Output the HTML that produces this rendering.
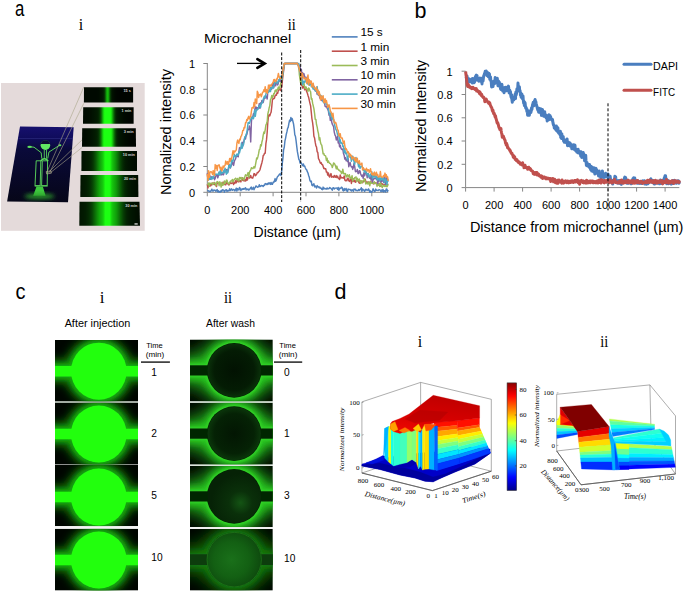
<!DOCTYPE html>
<html><head><meta charset="utf-8"><style>
html,body{margin:0;padding:0;background:#fff;width:685px;height:594px;overflow:hidden}
svg{display:block}

</style></head><body>
<svg width="685" height="594" viewBox="0 0 685 594">
<defs>
<linearGradient id="navy" x1="0" y1="0" x2="0" y2="1">
<stop offset="0" stop-color="#16106e"/><stop offset="0.15" stop-color="#100c5c"/><stop offset="0.3" stop-color="#0a0a3a"/><stop offset="1" stop-color="#060618"/></linearGradient>
<filter id="blur1" x="-20%" y="-20%" width="140%" height="140%"><feGaussianBlur stdDeviation="0.6"/></filter>
<filter id="blur2" x="-50%" y="-50%" width="200%" height="200%"><feGaussianBlur stdDeviation="2.2"/></filter>
<linearGradient id="strip0" x1="84.0" y1="0" x2="133.1" y2="0" gradientUnits="userSpaceOnUse"><stop offset="0.000" stop-color="rgb(0,9,0)"/><stop offset="0.017" stop-color="rgb(0,9,0)"/><stop offset="0.033" stop-color="rgb(0,9,0)"/><stop offset="0.050" stop-color="rgb(0,9,0)"/><stop offset="0.067" stop-color="rgb(0,9,0)"/><stop offset="0.083" stop-color="rgb(0,9,0)"/><stop offset="0.100" stop-color="rgb(0,9,0)"/><stop offset="0.117" stop-color="rgb(0,9,0)"/><stop offset="0.133" stop-color="rgb(0,9,0)"/><stop offset="0.150" stop-color="rgb(0,9,0)"/><stop offset="0.167" stop-color="rgb(0,9,0)"/><stop offset="0.183" stop-color="rgb(0,9,0)"/><stop offset="0.200" stop-color="rgb(0,9,0)"/><stop offset="0.217" stop-color="rgb(0,9,0)"/><stop offset="0.233" stop-color="rgb(0,9,0)"/><stop offset="0.250" stop-color="rgb(0,9,0)"/><stop offset="0.267" stop-color="rgb(0,10,0)"/><stop offset="0.283" stop-color="rgb(0,10,0)"/><stop offset="0.300" stop-color="rgb(0,11,0)"/><stop offset="0.317" stop-color="rgb(1,13,0)"/><stop offset="0.333" stop-color="rgb(1,15,0)"/><stop offset="0.350" stop-color="rgb(1,17,0)"/><stop offset="0.367" stop-color="rgb(1,20,1)"/><stop offset="0.383" stop-color="rgb(2,24,1)"/><stop offset="0.400" stop-color="rgb(3,33,2)"/><stop offset="0.417" stop-color="rgb(5,52,3)"/><stop offset="0.433" stop-color="rgb(9,88,5)"/><stop offset="0.450" stop-color="rgb(14,136,9)"/><stop offset="0.467" stop-color="rgb(19,178,12)"/><stop offset="0.483" stop-color="rgb(20,187,12)"/><stop offset="0.500" stop-color="rgb(17,162,11)"/><stop offset="0.517" stop-color="rgb(12,114,7)"/><stop offset="0.533" stop-color="rgb(7,69,4)"/><stop offset="0.550" stop-color="rgb(3,40,2)"/><stop offset="0.567" stop-color="rgb(2,24,1)"/><stop offset="0.583" stop-color="rgb(1,17,0)"/><stop offset="0.600" stop-color="rgb(1,14,0)"/><stop offset="0.617" stop-color="rgb(0,11,0)"/><stop offset="0.633" stop-color="rgb(0,9,0)"/><stop offset="0.650" stop-color="rgb(0,7,0)"/><stop offset="0.667" stop-color="rgb(0,6,0)"/><stop offset="0.683" stop-color="rgb(0,5,0)"/><stop offset="0.700" stop-color="rgb(0,5,0)"/><stop offset="0.717" stop-color="rgb(0,4,0)"/><stop offset="0.733" stop-color="rgb(0,4,0)"/><stop offset="0.750" stop-color="rgb(0,4,0)"/><stop offset="0.767" stop-color="rgb(0,4,0)"/><stop offset="0.783" stop-color="rgb(0,4,0)"/><stop offset="0.800" stop-color="rgb(0,4,0)"/><stop offset="0.817" stop-color="rgb(0,4,0)"/><stop offset="0.833" stop-color="rgb(0,4,0)"/><stop offset="0.850" stop-color="rgb(0,4,0)"/><stop offset="0.867" stop-color="rgb(0,4,0)"/><stop offset="0.883" stop-color="rgb(0,4,0)"/><stop offset="0.900" stop-color="rgb(0,4,0)"/><stop offset="0.917" stop-color="rgb(0,4,0)"/><stop offset="0.933" stop-color="rgb(0,4,0)"/><stop offset="0.950" stop-color="rgb(0,4,0)"/><stop offset="0.967" stop-color="rgb(0,4,0)"/><stop offset="0.983" stop-color="rgb(0,4,0)"/><stop offset="1.000" stop-color="rgb(0,4,0)"/></linearGradient>
<linearGradient id="strip1" x1="83.2" y1="0" x2="133.6" y2="0" gradientUnits="userSpaceOnUse"><stop offset="0.000" stop-color="rgb(0,10,0)"/><stop offset="0.017" stop-color="rgb(0,10,0)"/><stop offset="0.033" stop-color="rgb(0,10,0)"/><stop offset="0.050" stop-color="rgb(0,11,0)"/><stop offset="0.067" stop-color="rgb(0,11,0)"/><stop offset="0.083" stop-color="rgb(0,12,0)"/><stop offset="0.100" stop-color="rgb(0,12,0)"/><stop offset="0.117" stop-color="rgb(1,13,0)"/><stop offset="0.133" stop-color="rgb(1,14,0)"/><stop offset="0.150" stop-color="rgb(1,15,0)"/><stop offset="0.167" stop-color="rgb(1,16,0)"/><stop offset="0.183" stop-color="rgb(1,18,1)"/><stop offset="0.200" stop-color="rgb(1,19,1)"/><stop offset="0.217" stop-color="rgb(1,21,1)"/><stop offset="0.233" stop-color="rgb(2,22,1)"/><stop offset="0.250" stop-color="rgb(2,24,1)"/><stop offset="0.267" stop-color="rgb(2,26,1)"/><stop offset="0.283" stop-color="rgb(2,29,1)"/><stop offset="0.300" stop-color="rgb(3,34,2)"/><stop offset="0.317" stop-color="rgb(4,43,2)"/><stop offset="0.333" stop-color="rgb(6,60,3)"/><stop offset="0.350" stop-color="rgb(9,87,5)"/><stop offset="0.367" stop-color="rgb(13,123,8)"/><stop offset="0.383" stop-color="rgb(17,166,11)"/><stop offset="0.400" stop-color="rgb(22,208,14)"/><stop offset="0.417" stop-color="rgb(26,244,16)"/><stop offset="0.433" stop-color="rgb(28,255,18)"/><stop offset="0.450" stop-color="rgb(28,255,18)"/><stop offset="0.467" stop-color="rgb(28,255,18)"/><stop offset="0.483" stop-color="rgb(28,255,18)"/><stop offset="0.500" stop-color="rgb(28,255,18)"/><stop offset="0.517" stop-color="rgb(28,255,18)"/><stop offset="0.533" stop-color="rgb(28,255,18)"/><stop offset="0.550" stop-color="rgb(26,242,16)"/><stop offset="0.567" stop-color="rgb(22,207,14)"/><stop offset="0.583" stop-color="rgb(17,165,11)"/><stop offset="0.600" stop-color="rgb(12,122,8)"/><stop offset="0.617" stop-color="rgb(8,85,5)"/><stop offset="0.633" stop-color="rgb(5,57,3)"/><stop offset="0.650" stop-color="rgb(3,39,2)"/><stop offset="0.667" stop-color="rgb(2,30,1)"/><stop offset="0.683" stop-color="rgb(2,25,1)"/><stop offset="0.700" stop-color="rgb(1,22,1)"/><stop offset="0.717" stop-color="rgb(1,19,1)"/><stop offset="0.733" stop-color="rgb(1,18,0)"/><stop offset="0.750" stop-color="rgb(1,16,0)"/><stop offset="0.767" stop-color="rgb(1,14,0)"/><stop offset="0.783" stop-color="rgb(1,13,0)"/><stop offset="0.800" stop-color="rgb(0,11,0)"/><stop offset="0.817" stop-color="rgb(0,10,0)"/><stop offset="0.833" stop-color="rgb(0,9,0)"/><stop offset="0.850" stop-color="rgb(0,8,0)"/><stop offset="0.867" stop-color="rgb(0,7,0)"/><stop offset="0.883" stop-color="rgb(0,7,0)"/><stop offset="0.900" stop-color="rgb(0,6,0)"/><stop offset="0.917" stop-color="rgb(0,6,0)"/><stop offset="0.933" stop-color="rgb(0,5,0)"/><stop offset="0.950" stop-color="rgb(0,5,0)"/><stop offset="0.967" stop-color="rgb(0,5,0)"/><stop offset="0.983" stop-color="rgb(0,4,0)"/><stop offset="1.000" stop-color="rgb(0,4,0)"/></linearGradient>
<linearGradient id="strip2" x1="82.2" y1="0" x2="135.8" y2="0" gradientUnits="userSpaceOnUse"><stop offset="0.000" stop-color="rgb(0,10,0)"/><stop offset="0.017" stop-color="rgb(0,11,0)"/><stop offset="0.033" stop-color="rgb(0,11,0)"/><stop offset="0.050" stop-color="rgb(0,12,0)"/><stop offset="0.067" stop-color="rgb(0,12,0)"/><stop offset="0.083" stop-color="rgb(1,13,0)"/><stop offset="0.100" stop-color="rgb(1,14,0)"/><stop offset="0.117" stop-color="rgb(1,15,0)"/><stop offset="0.133" stop-color="rgb(1,16,0)"/><stop offset="0.150" stop-color="rgb(1,17,0)"/><stop offset="0.167" stop-color="rgb(1,19,1)"/><stop offset="0.183" stop-color="rgb(1,20,1)"/><stop offset="0.200" stop-color="rgb(2,22,1)"/><stop offset="0.217" stop-color="rgb(2,24,1)"/><stop offset="0.233" stop-color="rgb(2,26,1)"/><stop offset="0.250" stop-color="rgb(2,29,1)"/><stop offset="0.267" stop-color="rgb(3,32,1)"/><stop offset="0.283" stop-color="rgb(3,37,2)"/><stop offset="0.300" stop-color="rgb(4,46,3)"/><stop offset="0.317" stop-color="rgb(6,62,4)"/><stop offset="0.333" stop-color="rgb(9,88,5)"/><stop offset="0.350" stop-color="rgb(13,122,8)"/><stop offset="0.367" stop-color="rgb(17,163,11)"/><stop offset="0.383" stop-color="rgb(22,205,14)"/><stop offset="0.400" stop-color="rgb(26,241,16)"/><stop offset="0.417" stop-color="rgb(28,255,18)"/><stop offset="0.433" stop-color="rgb(28,255,18)"/><stop offset="0.450" stop-color="rgb(28,255,18)"/><stop offset="0.467" stop-color="rgb(28,255,18)"/><stop offset="0.483" stop-color="rgb(28,255,18)"/><stop offset="0.500" stop-color="rgb(28,255,18)"/><stop offset="0.517" stop-color="rgb(28,255,18)"/><stop offset="0.533" stop-color="rgb(28,255,18)"/><stop offset="0.550" stop-color="rgb(25,232,16)"/><stop offset="0.567" stop-color="rgb(20,194,13)"/><stop offset="0.583" stop-color="rgb(16,152,10)"/><stop offset="0.600" stop-color="rgb(11,112,7)"/><stop offset="0.617" stop-color="rgb(8,78,5)"/><stop offset="0.633" stop-color="rgb(5,54,3)"/><stop offset="0.650" stop-color="rgb(3,39,2)"/><stop offset="0.667" stop-color="rgb(3,31,1)"/><stop offset="0.683" stop-color="rgb(2,26,1)"/><stop offset="0.700" stop-color="rgb(2,23,1)"/><stop offset="0.717" stop-color="rgb(1,21,1)"/><stop offset="0.733" stop-color="rgb(1,19,1)"/><stop offset="0.750" stop-color="rgb(1,17,0)"/><stop offset="0.767" stop-color="rgb(1,15,0)"/><stop offset="0.783" stop-color="rgb(1,14,0)"/><stop offset="0.800" stop-color="rgb(0,12,0)"/><stop offset="0.817" stop-color="rgb(0,11,0)"/><stop offset="0.833" stop-color="rgb(0,10,0)"/><stop offset="0.850" stop-color="rgb(0,9,0)"/><stop offset="0.867" stop-color="rgb(0,8,0)"/><stop offset="0.883" stop-color="rgb(0,7,0)"/><stop offset="0.900" stop-color="rgb(0,6,0)"/><stop offset="0.917" stop-color="rgb(0,6,0)"/><stop offset="0.933" stop-color="rgb(0,5,0)"/><stop offset="0.950" stop-color="rgb(0,5,0)"/><stop offset="0.967" stop-color="rgb(0,5,0)"/><stop offset="0.983" stop-color="rgb(0,4,0)"/><stop offset="1.000" stop-color="rgb(0,4,0)"/></linearGradient>
<linearGradient id="strip3" x1="81.5" y1="0" x2="137.0" y2="0" gradientUnits="userSpaceOnUse"><stop offset="0.000" stop-color="rgb(1,18,1)"/><stop offset="0.017" stop-color="rgb(1,19,1)"/><stop offset="0.033" stop-color="rgb(1,20,1)"/><stop offset="0.050" stop-color="rgb(1,21,1)"/><stop offset="0.067" stop-color="rgb(2,22,1)"/><stop offset="0.083" stop-color="rgb(2,24,1)"/><stop offset="0.100" stop-color="rgb(2,25,1)"/><stop offset="0.117" stop-color="rgb(2,27,1)"/><stop offset="0.133" stop-color="rgb(2,29,1)"/><stop offset="0.150" stop-color="rgb(3,32,2)"/><stop offset="0.167" stop-color="rgb(3,37,2)"/><stop offset="0.183" stop-color="rgb(4,42,2)"/><stop offset="0.200" stop-color="rgb(5,50,3)"/><stop offset="0.217" stop-color="rgb(6,59,3)"/><stop offset="0.233" stop-color="rgb(7,71,4)"/><stop offset="0.250" stop-color="rgb(8,84,5)"/><stop offset="0.267" stop-color="rgb(10,99,6)"/><stop offset="0.283" stop-color="rgb(12,115,7)"/><stop offset="0.300" stop-color="rgb(14,131,9)"/><stop offset="0.317" stop-color="rgb(15,147,10)"/><stop offset="0.333" stop-color="rgb(17,161,11)"/><stop offset="0.350" stop-color="rgb(18,174,12)"/><stop offset="0.367" stop-color="rgb(20,187,12)"/><stop offset="0.383" stop-color="rgb(21,201,13)"/><stop offset="0.400" stop-color="rgb(23,219,15)"/><stop offset="0.417" stop-color="rgb(26,244,17)"/><stop offset="0.433" stop-color="rgb(28,255,18)"/><stop offset="0.450" stop-color="rgb(28,255,18)"/><stop offset="0.467" stop-color="rgb(28,255,18)"/><stop offset="0.483" stop-color="rgb(28,255,18)"/><stop offset="0.500" stop-color="rgb(28,255,18)"/><stop offset="0.517" stop-color="rgb(27,252,17)"/><stop offset="0.533" stop-color="rgb(24,224,15)"/><stop offset="0.550" stop-color="rgb(21,203,14)"/><stop offset="0.567" stop-color="rgb(20,187,12)"/><stop offset="0.583" stop-color="rgb(18,175,12)"/><stop offset="0.600" stop-color="rgb(17,162,11)"/><stop offset="0.617" stop-color="rgb(15,148,10)"/><stop offset="0.633" stop-color="rgb(14,133,9)"/><stop offset="0.650" stop-color="rgb(12,117,8)"/><stop offset="0.667" stop-color="rgb(10,101,6)"/><stop offset="0.683" stop-color="rgb(8,85,5)"/><stop offset="0.700" stop-color="rgb(7,71,4)"/><stop offset="0.717" stop-color="rgb(6,59,3)"/><stop offset="0.733" stop-color="rgb(4,49,3)"/><stop offset="0.750" stop-color="rgb(4,40,2)"/><stop offset="0.767" stop-color="rgb(3,34,2)"/><stop offset="0.783" stop-color="rgb(2,29,1)"/><stop offset="0.800" stop-color="rgb(2,25,1)"/><stop offset="0.817" stop-color="rgb(2,23,1)"/><stop offset="0.833" stop-color="rgb(1,21,1)"/><stop offset="0.850" stop-color="rgb(1,19,1)"/><stop offset="0.867" stop-color="rgb(1,18,1)"/><stop offset="0.883" stop-color="rgb(1,16,0)"/><stop offset="0.900" stop-color="rgb(1,15,0)"/><stop offset="0.917" stop-color="rgb(1,14,0)"/><stop offset="0.933" stop-color="rgb(1,13,0)"/><stop offset="0.950" stop-color="rgb(0,12,0)"/><stop offset="0.967" stop-color="rgb(0,11,0)"/><stop offset="0.983" stop-color="rgb(0,11,0)"/><stop offset="1.000" stop-color="rgb(0,10,0)"/></linearGradient>
<linearGradient id="strip4" x1="80.5" y1="0" x2="138.2" y2="0" gradientUnits="userSpaceOnUse"><stop offset="0.000" stop-color="rgb(1,21,1)"/><stop offset="0.017" stop-color="rgb(2,22,1)"/><stop offset="0.033" stop-color="rgb(2,24,1)"/><stop offset="0.050" stop-color="rgb(2,25,1)"/><stop offset="0.067" stop-color="rgb(2,26,1)"/><stop offset="0.083" stop-color="rgb(2,28,1)"/><stop offset="0.100" stop-color="rgb(2,30,1)"/><stop offset="0.117" stop-color="rgb(3,33,2)"/><stop offset="0.133" stop-color="rgb(3,36,2)"/><stop offset="0.150" stop-color="rgb(4,41,2)"/><stop offset="0.167" stop-color="rgb(4,47,3)"/><stop offset="0.183" stop-color="rgb(5,55,3)"/><stop offset="0.200" stop-color="rgb(6,64,4)"/><stop offset="0.217" stop-color="rgb(7,75,5)"/><stop offset="0.233" stop-color="rgb(9,87,5)"/><stop offset="0.250" stop-color="rgb(10,101,6)"/><stop offset="0.267" stop-color="rgb(12,115,7)"/><stop offset="0.283" stop-color="rgb(13,129,8)"/><stop offset="0.300" stop-color="rgb(15,143,9)"/><stop offset="0.317" stop-color="rgb(16,156,10)"/><stop offset="0.333" stop-color="rgb(18,168,11)"/><stop offset="0.350" stop-color="rgb(19,179,12)"/><stop offset="0.367" stop-color="rgb(20,188,13)"/><stop offset="0.383" stop-color="rgb(21,199,13)"/><stop offset="0.400" stop-color="rgb(23,215,14)"/><stop offset="0.417" stop-color="rgb(25,238,16)"/><stop offset="0.433" stop-color="rgb(28,255,18)"/><stop offset="0.450" stop-color="rgb(28,255,18)"/><stop offset="0.467" stop-color="rgb(28,255,18)"/><stop offset="0.483" stop-color="rgb(28,255,18)"/><stop offset="0.500" stop-color="rgb(28,255,18)"/><stop offset="0.517" stop-color="rgb(26,243,16)"/><stop offset="0.533" stop-color="rgb(23,217,15)"/><stop offset="0.550" stop-color="rgb(21,199,13)"/><stop offset="0.567" stop-color="rgb(20,187,12)"/><stop offset="0.583" stop-color="rgb(19,177,12)"/><stop offset="0.600" stop-color="rgb(17,167,11)"/><stop offset="0.617" stop-color="rgb(16,156,10)"/><stop offset="0.633" stop-color="rgb(15,143,9)"/><stop offset="0.650" stop-color="rgb(13,129,8)"/><stop offset="0.667" stop-color="rgb(12,115,7)"/><stop offset="0.683" stop-color="rgb(10,101,6)"/><stop offset="0.700" stop-color="rgb(9,87,5)"/><stop offset="0.717" stop-color="rgb(7,74,4)"/><stop offset="0.733" stop-color="rgb(6,62,4)"/><stop offset="0.750" stop-color="rgb(5,53,3)"/><stop offset="0.767" stop-color="rgb(4,44,2)"/><stop offset="0.783" stop-color="rgb(3,38,2)"/><stop offset="0.800" stop-color="rgb(3,33,2)"/><stop offset="0.817" stop-color="rgb(2,29,1)"/><stop offset="0.833" stop-color="rgb(2,26,1)"/><stop offset="0.850" stop-color="rgb(2,24,1)"/><stop offset="0.867" stop-color="rgb(2,22,1)"/><stop offset="0.883" stop-color="rgb(1,20,1)"/><stop offset="0.900" stop-color="rgb(1,19,1)"/><stop offset="0.917" stop-color="rgb(1,18,0)"/><stop offset="0.933" stop-color="rgb(1,17,0)"/><stop offset="0.950" stop-color="rgb(1,15,0)"/><stop offset="0.967" stop-color="rgb(1,14,0)"/><stop offset="0.983" stop-color="rgb(1,14,0)"/><stop offset="1.000" stop-color="rgb(1,13,0)"/></linearGradient>
<linearGradient id="strip5" x1="79.5" y1="0" x2="139.5" y2="0" gradientUnits="userSpaceOnUse"><stop offset="0.000" stop-color="rgb(1,21,1)"/><stop offset="0.017" stop-color="rgb(2,22,1)"/><stop offset="0.033" stop-color="rgb(2,24,1)"/><stop offset="0.050" stop-color="rgb(2,25,1)"/><stop offset="0.067" stop-color="rgb(2,26,1)"/><stop offset="0.083" stop-color="rgb(2,28,1)"/><stop offset="0.100" stop-color="rgb(2,30,1)"/><stop offset="0.117" stop-color="rgb(3,33,2)"/><stop offset="0.133" stop-color="rgb(3,37,2)"/><stop offset="0.150" stop-color="rgb(4,41,2)"/><stop offset="0.167" stop-color="rgb(4,47,3)"/><stop offset="0.183" stop-color="rgb(5,55,3)"/><stop offset="0.200" stop-color="rgb(6,64,4)"/><stop offset="0.217" stop-color="rgb(7,75,5)"/><stop offset="0.233" stop-color="rgb(9,88,5)"/><stop offset="0.250" stop-color="rgb(10,102,6)"/><stop offset="0.267" stop-color="rgb(12,116,7)"/><stop offset="0.283" stop-color="rgb(13,130,8)"/><stop offset="0.300" stop-color="rgb(15,144,9)"/><stop offset="0.317" stop-color="rgb(16,157,10)"/><stop offset="0.333" stop-color="rgb(18,169,11)"/><stop offset="0.350" stop-color="rgb(19,179,12)"/><stop offset="0.367" stop-color="rgb(20,188,13)"/><stop offset="0.383" stop-color="rgb(21,199,13)"/><stop offset="0.400" stop-color="rgb(23,214,14)"/><stop offset="0.417" stop-color="rgb(25,237,16)"/><stop offset="0.433" stop-color="rgb(28,255,18)"/><stop offset="0.450" stop-color="rgb(28,255,18)"/><stop offset="0.467" stop-color="rgb(28,255,18)"/><stop offset="0.483" stop-color="rgb(28,255,18)"/><stop offset="0.500" stop-color="rgb(28,255,18)"/><stop offset="0.517" stop-color="rgb(25,237,16)"/><stop offset="0.533" stop-color="rgb(22,213,14)"/><stop offset="0.550" stop-color="rgb(21,196,13)"/><stop offset="0.567" stop-color="rgb(19,185,12)"/><stop offset="0.583" stop-color="rgb(18,176,12)"/><stop offset="0.600" stop-color="rgb(17,166,11)"/><stop offset="0.617" stop-color="rgb(16,155,10)"/><stop offset="0.633" stop-color="rgb(15,142,9)"/><stop offset="0.650" stop-color="rgb(13,128,8)"/><stop offset="0.667" stop-color="rgb(12,114,7)"/><stop offset="0.683" stop-color="rgb(10,99,6)"/><stop offset="0.700" stop-color="rgb(9,86,5)"/><stop offset="0.717" stop-color="rgb(7,73,4)"/><stop offset="0.733" stop-color="rgb(6,61,4)"/><stop offset="0.750" stop-color="rgb(5,52,3)"/><stop offset="0.767" stop-color="rgb(4,44,2)"/><stop offset="0.783" stop-color="rgb(3,37,2)"/><stop offset="0.800" stop-color="rgb(3,32,2)"/><stop offset="0.817" stop-color="rgb(2,29,1)"/><stop offset="0.833" stop-color="rgb(2,26,1)"/><stop offset="0.850" stop-color="rgb(2,23,1)"/><stop offset="0.867" stop-color="rgb(1,22,1)"/><stop offset="0.883" stop-color="rgb(1,20,1)"/><stop offset="0.900" stop-color="rgb(1,19,1)"/><stop offset="0.917" stop-color="rgb(1,18,0)"/><stop offset="0.933" stop-color="rgb(1,16,0)"/><stop offset="0.950" stop-color="rgb(1,15,0)"/><stop offset="0.967" stop-color="rgb(1,14,0)"/><stop offset="0.983" stop-color="rgb(1,13,0)"/><stop offset="1.000" stop-color="rgb(0,13,0)"/></linearGradient>
<filter id="glowA" x="-30%" y="-30%" width="160%" height="160%"><feGaussianBlur stdDeviation="4.5"/></filter>
<filter id="glowB" x="-30%" y="-30%" width="160%" height="160%"><feGaussianBlur stdDeviation="7"/></filter>
<filter id="soft" x="-10%" y="-10%" width="120%" height="120%"><feGaussianBlur stdDeviation="0.7"/></filter>
<filter id="soft2" x="-10%" y="-10%" width="120%" height="120%"><feGaussianBlur stdDeviation="1.6"/></filter>
<filter id="gI1" x="-30%" y="-30%" width="160%" height="160%"><feGaussianBlur stdDeviation="5"/></filter>
<filter id="gI2" x="-30%" y="-30%" width="160%" height="160%"><feGaussianBlur stdDeviation="2.2"/></filter>
<filter id="gJ1" x="-40%" y="-40%" width="180%" height="180%"><feGaussianBlur stdDeviation="9"/></filter>
<filter id="gJ2" x="-30%" y="-30%" width="160%" height="160%"><feGaussianBlur stdDeviation="3.5"/></filter>
<filter id="gJ3" x="-30%" y="-30%" width="160%" height="160%"><feGaussianBlur stdDeviation="1.2"/></filter>
<radialGradient id="inJ0" cx="0.5" cy="0.5" r="0.5"><stop offset="0" stop-color="#021202"/><stop offset="0.75" stop-color="#041c04"/><stop offset="1" stop-color="#0a300a"/></radialGradient>
<radialGradient id="inJ1" cx="0.5" cy="0.5" r="0.5"><stop offset="0" stop-color="#031603"/><stop offset="0.75" stop-color="#052205"/><stop offset="1" stop-color="#0b360b"/></radialGradient>
<radialGradient id="inJ2" cx="0.62" cy="0.62" r="0.55"><stop offset="0" stop-color="#145414"/><stop offset="0.4" stop-color="#0a300a"/><stop offset="1" stop-color="#062206"/></radialGradient>
<radialGradient id="inJ3" cx="0.45" cy="0.5" r="0.55"><stop offset="0" stop-color="#1a701a"/><stop offset="0.6" stop-color="#136013"/><stop offset="1" stop-color="#0e4a0e"/></radialGradient>
<clipPath id="cli0"><rect x="55.0" y="339.9" width="83.0" height="61.700000000000045"/></clipPath>
<clipPath id="cli1"><rect x="55.0" y="402.6" width="83.0" height="62.0"/></clipPath>
<clipPath id="cli2"><rect x="55.0" y="464.6" width="83.0" height="61.69999999999993"/></clipPath>
<clipPath id="cli3"><rect x="55.0" y="528.6" width="83.0" height="62.0"/></clipPath>
<clipPath id="clj0"><rect x="190.0" y="339.5" width="82.80000000000001" height="62.10000000000002"/></clipPath>
<clipPath id="clj1"><rect x="190.0" y="402.6" width="82.80000000000001" height="62.099999999999966"/></clipPath>
<clipPath id="clj2"><rect x="190.0" y="466.0" width="82.80000000000001" height="61.200000000000045"/></clipPath>
<clipPath id="clj3"><rect x="190.0" y="528.9" width="82.80000000000001" height="61.700000000000045"/></clipPath>
<clipPath id="rfclip"><polygon points="434,421 479.6,417.5 479.6,427 491.2,453.8 437.6,471 434,471"/></clipPath>
<linearGradient id="redtop" x1="0.3" y1="0" x2="0" y2="1"><stop offset="0" stop-color="#c20000"/><stop offset="0.45" stop-color="#d40000"/><stop offset="1" stop-color="#f20800"/></linearGradient>
<linearGradient id="jetbar" x1="0" y1="0" x2="0" y2="1"><stop offset="0.00" stop-color="rgb(127,0,0)"/><stop offset="0.05" stop-color="rgb(176,0,0)"/><stop offset="0.10" stop-color="rgb(226,0,0)"/><stop offset="0.15" stop-color="rgb(255,20,0)"/><stop offset="0.20" stop-color="rgb(255,70,0)"/><stop offset="0.25" stop-color="rgb(255,119,0)"/><stop offset="0.30" stop-color="rgb(255,169,0)"/><stop offset="0.35" stop-color="rgb(255,218,0)"/><stop offset="0.40" stop-color="rgb(241,255,13)"/><stop offset="0.45" stop-color="rgb(192,255,62)"/><stop offset="0.50" stop-color="rgb(142,255,112)"/><stop offset="0.55" stop-color="rgb(93,255,161)"/><stop offset="0.60" stop-color="rgb(43,255,211)"/><stop offset="0.65" stop-color="rgb(0,249,255)"/><stop offset="0.70" stop-color="rgb(0,199,255)"/><stop offset="0.75" stop-color="rgb(0,150,255)"/><stop offset="0.80" stop-color="rgb(0,100,255)"/><stop offset="0.85" stop-color="rgb(0,51,255)"/><stop offset="0.90" stop-color="rgb(0,2,255)"/><stop offset="0.95" stop-color="rgb(0,0,207)"/><stop offset="1.00" stop-color="rgb(0,0,158)"/></linearGradient>
<linearGradient id="jetbar2" x1="0" y1="0" x2="0" y2="1"><stop offset="0.000" stop-color="rgb(137,0,0)"/><stop offset="0.025" stop-color="rgb(162,0,0)"/><stop offset="0.050" stop-color="rgb(187,0,0)"/><stop offset="0.075" stop-color="rgb(212,0,0)"/><stop offset="0.100" stop-color="rgb(237,0,0)"/><stop offset="0.125" stop-color="rgb(255,7,0)"/><stop offset="0.150" stop-color="rgb(255,32,0)"/><stop offset="0.175" stop-color="rgb(255,57,0)"/><stop offset="0.200" stop-color="rgb(255,82,0)"/><stop offset="0.225" stop-color="rgb(255,107,0)"/><stop offset="0.250" stop-color="rgb(255,132,0)"/><stop offset="0.275" stop-color="rgb(255,157,0)"/><stop offset="0.300" stop-color="rgb(255,182,0)"/><stop offset="0.325" stop-color="rgb(255,207,0)"/><stop offset="0.350" stop-color="rgb(255,232,0)"/><stop offset="0.375" stop-color="rgb(252,255,2)"/><stop offset="0.400" stop-color="rgb(227,255,27)"/><stop offset="0.425" stop-color="rgb(202,255,52)"/><stop offset="0.450" stop-color="rgb(177,255,77)"/><stop offset="0.475" stop-color="rgb(152,255,102)"/><stop offset="0.500" stop-color="rgb(127,255,127)"/><stop offset="0.525" stop-color="rgb(102,255,152)"/><stop offset="0.550" stop-color="rgb(77,255,177)"/><stop offset="0.575" stop-color="rgb(52,255,202)"/><stop offset="0.600" stop-color="rgb(27,255,227)"/><stop offset="0.625" stop-color="rgb(2,255,252)"/><stop offset="0.650" stop-color="rgb(0,232,255)"/><stop offset="0.675" stop-color="rgb(0,207,255)"/><stop offset="0.700" stop-color="rgb(0,182,255)"/><stop offset="0.725" stop-color="rgb(0,157,255)"/><stop offset="0.750" stop-color="rgb(0,132,255)"/><stop offset="0.775" stop-color="rgb(0,107,255)"/><stop offset="0.800" stop-color="rgb(0,82,255)"/><stop offset="0.825" stop-color="rgb(0,57,255)"/><stop offset="0.850" stop-color="rgb(0,32,255)"/><stop offset="0.875" stop-color="rgb(0,7,255)"/><stop offset="0.900" stop-color="rgb(0,0,237)"/><stop offset="0.925" stop-color="rgb(0,0,212)"/><stop offset="0.950" stop-color="rgb(0,0,187)"/><stop offset="0.975" stop-color="rgb(0,0,162)"/><stop offset="1.000" stop-color="rgb(0,0,137)"/></linearGradient>
</defs>
<rect width="685" height="594" fill="#fff"/>
<rect x="1" y="83" width="143.7" height="147.8" fill="#e4dada"/>
<polygon points="20,126.4 73.7,127.2 68,202.3 7.1,201.6" fill="url(#navy)"/>
<line x1="18.5" y1="138.5" x2="73" y2="138.5" stroke="#34348a" stroke-width="0.5"/>
<g filter="url(#blur1)"><circle cx="45.4" cy="145.2" r="4.8" fill="#62e862"/><path d="M40.8,143.6 Q45.4,139 50,143.6 Q45.4,142.2 40.8,143.6 Z" fill="#0c0c30"/><path d="M40.7,144 A4.8,4.8 0 0 1 50.1,144 Z" fill="#0c0c30"/><polyline points="31,146.9 34,147.2 41.2,152.7 41.8,158.6" fill="none" stroke="#5ee05e" stroke-width="0.9"/><polyline points="59.5,145.3 48.9,152.1 47.7,158.6" fill="none" stroke="#5ee05e" stroke-width="0.9"/><ellipse cx="29.6" cy="146.9" rx="2.3" ry="1.1" fill="#5ee05e"/><ellipse cx="60" cy="145.2" rx="1.4" ry="1" fill="#5ee05e"/><line x1="44.3" y1="149.5" x2="44.3" y2="158.6" stroke="#5ee05e" stroke-width="0.8"/><line x1="46.5" y1="149.5" x2="46.5" y2="158.6" stroke="#5ee05e" stroke-width="0.8"/><path d="M40.6,161 Q44.5,156.5 48.2,161" fill="none" stroke="#5ee05e" stroke-width="1.3"/><polygon points="36.2,160.8 40.8,160.8 40.2,185.7 35.0,185.7" fill="none" stroke="#5ee05e" stroke-width="0.9"/><polygon points="42.3,160.8 47.6,160.8 47.2,185.7 41.6,185.7" fill="none" stroke="#5ee05e" stroke-width="0.9"/><line x1="34.6" y1="186" x2="47.8" y2="186" stroke="#5ee05e" stroke-width="0.9"/></g>
<path d="M36.5,186.5 L42.8,186.5 L45.6,195.8 L33.2,195.8 Z" fill="#3ec83e" filter="url(#blur1)"/>
<ellipse cx="39.5" cy="196.3" rx="15" ry="2.6" fill="#2c9c2c" filter="url(#blur2)"/>
<line x1="83.8" y1="87" x2="46.7" y2="172.5" stroke="#aaa68a" stroke-width="0.6"/>
<line x1="83.8" y1="103.3" x2="49.5" y2="172.8" stroke="#aaa68a" stroke-width="0.6"/>
<line x1="82.1" y1="139.8" x2="47.8" y2="173" stroke="#aaa68a" stroke-width="0.6"/>
<line x1="82.1" y1="147.5" x2="50.5" y2="172.6" stroke="#aaa68a" stroke-width="0.6"/>
<rect x="46.4" y="171.2" width="4.8" height="2.4" fill="none" stroke="#aaa68a" stroke-width="0.7" transform="rotate(-10 48.8 172.4)"/>
<polygon points="84.0,87.3 133.1,87.3 133.1,102.6 83.9,102.6" fill="url(#strip0)"/>
<text x="130.9" y="92.3" font-size="3.8" text-anchor="end" font-family='"Liberation Sans", sans-serif' fill="#d8d8d8" font-weight="bold">15 s</text>
<polygon points="83.2,107.2 133.6,107.2 133.6,123.8 83.0,123.8" fill="url(#strip1)"/>
<text x="131.4" y="112.2" font-size="3.8" text-anchor="end" font-family='"Liberation Sans", sans-serif' fill="#d8d8d8" font-weight="bold">1 min</text>
<polygon points="82.2,128.2 135.8,128.2 136.0,146.7 82.0,146.7" fill="url(#strip2)"/>
<text x="133.60000000000002" y="133.2" font-size="3.8" text-anchor="end" font-family='"Liberation Sans", sans-serif' fill="#d8d8d8" font-weight="bold">3 min</text>
<polygon points="81.5,151.0 137.0,151.0 137.0,171.0 81.4,171.0" fill="url(#strip3)"/>
<text x="134.8" y="156.0" font-size="3.8" text-anchor="end" font-family='"Liberation Sans", sans-serif' fill="#d8d8d8" font-weight="bold">10 min</text>
<polygon points="80.5,175.0 138.2,175.0 138.4,197.0 80.3,197.0" fill="url(#strip4)"/>
<text x="136.0" y="180.0" font-size="3.8" text-anchor="end" font-family='"Liberation Sans", sans-serif' fill="#d8d8d8" font-weight="bold">20 min</text>
<polygon points="79.5,201.8 139.5,201.8 140.0,225.8 79.3,225.8" fill="url(#strip5)"/>
<text x="137.3" y="206.8" font-size="3.8" text-anchor="end" font-family='"Liberation Sans", sans-serif' fill="#d8d8d8" font-weight="bold">30 min</text>
<rect x="134.5" y="223.3" width="3.2" height="1.3" fill="#ddd"/>
<g clip-path="url(#cli0)"><rect x="55.0" y="339.9" width="83.0" height="61.700000000000045" fill="#000600"/><g filter="url(#gI1)"><ellipse cx="98.8" cy="371.2" rx="34" ry="34.7" fill="#168a0e"/><rect x="45.0" y="360.2" width="103.0" height="22" fill="#168a0e"/></g><g filter="url(#gI2)"><ellipse cx="98.8" cy="371.2" rx="30.0" ry="30.7" fill="#14a80c"/><rect x="45.0" y="363.95" width="103.0" height="14.5" fill="#14a80c"/></g><g filter="url(#soft)"><ellipse cx="98.8" cy="371.2" rx="27.8" ry="28.5" fill="#22ff10"/><rect x="45.0" y="365.9" width="103.0" height="10.6" fill="#22ff10"/></g></g>
<g clip-path="url(#cli1)"><rect x="55.0" y="402.6" width="83.0" height="62.0" fill="#000600"/><g filter="url(#gI1)"><ellipse cx="98.8" cy="434.0" rx="34" ry="34.7" fill="#168a0e"/><rect x="45.0" y="423.0" width="103.0" height="22" fill="#168a0e"/></g><g filter="url(#gI2)"><ellipse cx="98.8" cy="434.0" rx="30.0" ry="30.7" fill="#14a80c"/><rect x="45.0" y="426.75" width="103.0" height="14.5" fill="#14a80c"/></g><g filter="url(#soft)"><ellipse cx="98.8" cy="434.0" rx="27.8" ry="28.5" fill="#22ff10"/><rect x="45.0" y="428.7" width="103.0" height="10.6" fill="#22ff10"/></g></g>
<g clip-path="url(#cli2)"><rect x="55.0" y="464.6" width="83.0" height="61.69999999999993" fill="#000600"/><g filter="url(#gI1)"><ellipse cx="98.8" cy="497.0" rx="34" ry="34.7" fill="#168a0e"/><rect x="45.0" y="486.0" width="103.0" height="22" fill="#168a0e"/></g><g filter="url(#gI2)"><ellipse cx="98.8" cy="497.0" rx="30.0" ry="30.7" fill="#14a80c"/><rect x="45.0" y="489.75" width="103.0" height="14.5" fill="#14a80c"/></g><g filter="url(#soft)"><ellipse cx="98.8" cy="497.0" rx="27.8" ry="28.5" fill="#22ff10"/><rect x="45.0" y="491.7" width="103.0" height="10.6" fill="#22ff10"/></g></g>
<g clip-path="url(#cli3)"><rect x="55.0" y="528.6" width="83.0" height="62.0" fill="#000600"/><g filter="url(#gI1)"><ellipse cx="98.8" cy="560.0" rx="34" ry="34.7" fill="#168a0e"/><rect x="45.0" y="549.0" width="103.0" height="22" fill="#168a0e"/></g><g filter="url(#gI2)"><ellipse cx="98.8" cy="560.0" rx="30.0" ry="30.7" fill="#14a80c"/><rect x="45.0" y="552.75" width="103.0" height="14.5" fill="#14a80c"/></g><g filter="url(#soft)"><ellipse cx="98.8" cy="560.0" rx="27.8" ry="28.5" fill="#22ff10"/><rect x="45.0" y="554.7" width="103.0" height="10.6" fill="#22ff10"/></g></g>
<rect x="55.0" y="401.6" width="83.0" height="1.0" fill="#8a9a8a"/>
<rect x="55.0" y="526.3" width="83.0" height="2.3" fill="#f4f4f4"/>
<g clip-path="url(#clj0)"><rect x="190.0" y="339.5" width="82.80000000000001" height="62.10000000000002" fill="#000400"/><g filter="url(#gJ1)"><ellipse cx="234.2" cy="370.4" rx="36" ry="36" fill="#24b41c"/><rect x="180.0" y="355.4" width="102.80000000000001" height="30" fill="#24b41c"/></g><g filter="url(#gJ2)"><ellipse cx="234.2" cy="370.4" rx="31" ry="31" fill="#2ac820"/><rect x="180.0" y="361.4" width="102.80000000000001" height="18" fill="#2ac820"/></g><g filter="url(#gJ3)"><ellipse cx="234.2" cy="370.4" rx="28.8" ry="28.8" fill="#32d228"/><rect x="180.0" y="364.15" width="102.80000000000001" height="12.5" fill="#32d228"/></g><g filter="url(#soft)"><ellipse cx="234.2" cy="370.4" rx="27.3" ry="27.3" fill="#062606"/><rect x="180.0" y="365.29999999999995" width="102.80000000000001" height="10.2" fill="#062606"/></g><circle cx="234.2" cy="370.4" r="26.6" fill="url(#inJ0)"/></g>
<g clip-path="url(#clj1)"><rect x="190.0" y="402.6" width="82.80000000000001" height="62.099999999999966" fill="#000400"/><g filter="url(#gJ1)"><ellipse cx="234.2" cy="433.6" rx="36" ry="36" fill="#24b41c"/><rect x="180.0" y="418.6" width="102.80000000000001" height="30" fill="#24b41c"/></g><g filter="url(#gJ2)"><ellipse cx="234.2" cy="433.6" rx="31" ry="31" fill="#2ac820"/><rect x="180.0" y="424.6" width="102.80000000000001" height="18" fill="#2ac820"/></g><g filter="url(#gJ3)"><ellipse cx="234.2" cy="433.6" rx="28.8" ry="28.8" fill="#32d228"/><rect x="180.0" y="427.35" width="102.80000000000001" height="12.5" fill="#32d228"/></g><g filter="url(#soft)"><ellipse cx="234.2" cy="433.6" rx="27.3" ry="27.3" fill="#062606"/><rect x="180.0" y="428.5" width="102.80000000000001" height="10.2" fill="#062606"/></g><circle cx="234.2" cy="433.6" r="26.6" fill="url(#inJ1)"/></g>
<g clip-path="url(#clj2)"><rect x="190.0" y="466.0" width="82.80000000000001" height="61.200000000000045" fill="#000400"/><g filter="url(#gJ1)"><ellipse cx="234.2" cy="496.4" rx="36" ry="36" fill="#24b41c"/><rect x="180.0" y="481.4" width="102.80000000000001" height="30" fill="#24b41c"/></g><g filter="url(#gJ2)"><ellipse cx="234.2" cy="496.4" rx="31" ry="31" fill="#2ac820"/><rect x="180.0" y="487.4" width="102.80000000000001" height="18" fill="#2ac820"/></g><g filter="url(#gJ3)"><ellipse cx="234.2" cy="496.4" rx="28.8" ry="28.8" fill="#32d228"/><rect x="180.0" y="490.15" width="102.80000000000001" height="12.5" fill="#32d228"/></g><g filter="url(#soft)"><ellipse cx="234.2" cy="496.4" rx="27.3" ry="27.3" fill="#062606"/><rect x="180.0" y="491.29999999999995" width="102.80000000000001" height="10.2" fill="#062606"/></g><circle cx="234.2" cy="496.4" r="26.6" fill="url(#inJ2)"/></g>
<g clip-path="url(#clj3)"><rect x="190.0" y="528.9" width="82.80000000000001" height="61.700000000000045" fill="#000400"/><g filter="url(#gJ1)"><ellipse cx="234.2" cy="559.6" rx="34" ry="34" fill="#127a0e"/><rect x="180.0" y="547.6" width="102.80000000000001" height="24" fill="#127a0e"/></g><g filter="url(#gJ2)"><ellipse cx="234.2" cy="559.6" rx="29" ry="29" fill="#157a10"/><rect x="180.0" y="552.6" width="102.80000000000001" height="14" fill="#157a10"/></g><g filter="url(#soft)"><ellipse cx="234.2" cy="559.6" rx="27.6" ry="27.6" fill="#0c3e0a"/><rect x="180.0" y="554.2" width="102.80000000000001" height="10.8" fill="#0c3e0a"/></g><circle cx="234.2" cy="559.6" r="27" fill="url(#inJ3)"/><circle cx="234.2" cy="559.6" r="27.2" fill="none" stroke="#2a9a20" stroke-width="0.6" opacity="0.8"/></g>
<rect x="190.0" y="401.6" width="82.80000000000001" height="1.0" fill="#c8d8c8"/>
<rect x="190.0" y="464.7" width="82.80000000000001" height="1.3" fill="#dde6dd"/>
<rect x="190.0" y="527.2" width="82.80000000000001" height="1.7" fill="#f0f0f0"/>
<text x="97.5" y="327" font-size="10.5" text-anchor="middle" font-family='"Liberation Sans", sans-serif' textLength="65.7" lengthAdjust="spacingAndGlyphs">After injection</text>
<text x="230.5" y="327" font-size="10.5" text-anchor="middle" font-family='"Liberation Sans", sans-serif' textLength="48.8" lengthAdjust="spacingAndGlyphs">After wash</text>
<text x="154.5" y="347.7" font-size="7.5" text-anchor="middle" font-family='"Liberation Sans", sans-serif' textLength="16.5" lengthAdjust="spacingAndGlyphs">Time</text>
<text x="155.0" y="357.4" font-size="7.8" text-anchor="middle" font-family='"Liberation Sans", sans-serif' textLength="18.5" lengthAdjust="spacingAndGlyphs">(min)</text>
<line x1="141.0" y1="362.1" x2="169.9" y2="362.1" stroke="#222" stroke-width="1.5"/>
<text x="287.6" y="347.7" font-size="7.5" text-anchor="middle" font-family='"Liberation Sans", sans-serif' textLength="16.5" lengthAdjust="spacingAndGlyphs">Time</text>
<text x="288.1" y="357.4" font-size="7.8" text-anchor="middle" font-family='"Liberation Sans", sans-serif' textLength="18.5" lengthAdjust="spacingAndGlyphs">(min)</text>
<line x1="274.0" y1="362.1" x2="302.2" y2="362.1" stroke="#222" stroke-width="1.5"/>
<text x="151.3" y="376" font-size="10.2" text-anchor="start" font-family='"Liberation Sans", sans-serif' >1</text>
<text x="151.3" y="437.2" font-size="10.2" text-anchor="start" font-family='"Liberation Sans", sans-serif' >2</text>
<text x="151.3" y="499" font-size="10.2" text-anchor="start" font-family='"Liberation Sans", sans-serif' >5</text>
<text x="151.3" y="561.4" font-size="10.2" text-anchor="start" font-family='"Liberation Sans", sans-serif' >10</text>
<text x="284.0" y="376.2" font-size="10.2" text-anchor="start" font-family='"Liberation Sans", sans-serif' >0</text>
<text x="284.0" y="436.9" font-size="10.2" text-anchor="start" font-family='"Liberation Sans", sans-serif' >1</text>
<text x="284.0" y="498.9" font-size="10.2" text-anchor="start" font-family='"Liberation Sans", sans-serif' >3</text>
<text x="284.0" y="561.5" font-size="10.2" text-anchor="start" font-family='"Liberation Sans", sans-serif' >10</text>
<line x1="361.9" y1="401.9" x2="420.6" y2="382.4" stroke="#6a6a6a" stroke-width="0.55"/>
<line x1="420.6" y1="382.4" x2="491.3" y2="399.3" stroke="#6a6a6a" stroke-width="0.55"/>
<line x1="420.6" y1="382.4" x2="420.8" y2="453.6" stroke="#6a6a6a" stroke-width="0.55"/>
<line x1="361.9" y1="473.0" x2="420.8" y2="453.6" stroke="#6a6a6a" stroke-width="0.55"/>
<line x1="420.8" y1="453.6" x2="491.3" y2="471.2" stroke="#6a6a6a" stroke-width="0.55"/>
<line x1="361.9" y1="401.9" x2="361.9" y2="473.0" stroke="#6a6a6a" stroke-width="0.55"/>
<line x1="491.3" y1="399.3" x2="491.3" y2="471.2" stroke="#6a6a6a" stroke-width="0.55"/>
<line x1="361.9" y1="473.0" x2="432.4" y2="490.6" stroke="#555" stroke-width="0.7"/>
<line x1="432.4" y1="490.6" x2="491.3" y2="471.2" stroke="#555" stroke-width="0.7"/>
<line x1="361.9" y1="468.0" x2="363.6" y2="467.4" stroke="#6a6a6a" stroke-width="0.55"/>
<line x1="361.9" y1="435.2" x2="363.6" y2="434.59999999999997" stroke="#6a6a6a" stroke-width="0.55"/>
<line x1="361.9" y1="402.6" x2="363.6" y2="402.0" stroke="#6a6a6a" stroke-width="0.55"/>
<polygon points="361.9,464.0 368.0,462.5 376.0,459.0 383.0,455.5 388.0,457.5 395.0,456.0 420.0,453.0 445.0,451.0 470.0,447.0 490.1,449.0 490.1,453.4 475.0,464.0 455.0,472.0 440.0,478.5 433.2,481.8 425.0,481.2 415.0,478.0 400.0,475.0 380.0,469.5 361.9,466.0" fill="#0000c8" stroke="#0000c8" stroke-width="0.3" />
<polygon points="361.9,465.2 380.0,463.0 392.0,466.0 405.0,468.0 420.0,472.0 433.0,477.0 445.0,474.0 465.0,465.0 490.1,452.0 490.1,453.4 475.0,464.0 455.0,472.0 440.0,478.5 433.2,481.8 425.0,481.2 415.0,478.0 400.0,475.0 380.0,469.5 361.9,466.0" fill="#00009e" stroke="#00009e" stroke-width="0.3" />
<polygon points="366.0,462.8 376.0,459.5 383.0,456.0 384.0,460.0 372.0,464.0" fill="#0010e0" stroke="#0010e0" stroke-width="0.3" />
<g clip-path="url(#rfclip)"><polygon points="434.0,422.0 457.0,420.5 457.3,425.3 434.2,427.4" fill="rgb(255,15,0)" stroke="rgb(255,15,0)" stroke-width="0.3" /><polygon points="434.2,427.4 457.3,425.3 457.5,429.0 434.4,431.5" fill="rgb(255,86,0)" stroke="rgb(255,86,0)" stroke-width="0.3" /><polygon points="434.4,431.5 457.5,429.0 457.8,433.8 434.6,437.0" fill="rgb(255,168,0)" stroke="rgb(255,168,0)" stroke-width="0.3" /><polygon points="434.6,437.0 457.8,433.8 458.0,437.4 434.8,441.1" fill="rgb(255,239,0)" stroke="rgb(255,239,0)" stroke-width="0.3" /><polygon points="434.8,441.1 458.0,437.4 458.2,441.0 434.9,445.1" fill="rgb(198,255,56)" stroke="rgb(198,255,56)" stroke-width="0.3" /><polygon points="434.9,445.1 458.2,441.0 458.4,444.7 435.1,449.2" fill="rgb(127,255,127)" stroke="rgb(127,255,127)" stroke-width="0.3" /><polygon points="435.1,449.2 458.4,444.7 458.7,449.5 435.3,454.7" fill="rgb(56,255,198)" stroke="rgb(56,255,198)" stroke-width="0.3" /><polygon points="435.3,454.7 458.7,449.5 458.9,454.3 435.6,460.1" fill="rgb(0,229,255)" stroke="rgb(0,229,255)" stroke-width="0.3" /><polygon points="435.6,460.1 458.9,454.3 459.2,458.0 435.7,464.2" fill="rgb(0,147,255)" stroke="rgb(0,147,255)" stroke-width="0.3" /><polygon points="435.7,464.2 459.2,458.0 459.5,464.0 436.0,471.0" fill="rgb(0,56,255)" stroke="rgb(0,56,255)" stroke-width="0.3" /><polygon points="457.0,420.5 492.0,416.5 492.0,422.7 457.4,428.0" fill="rgb(255,15,0)" stroke="rgb(255,15,0)" stroke-width="0.3" /><polygon points="457.4,428.0 492.0,422.7 492.0,425.2 457.6,431.0" fill="rgb(255,86,0)" stroke="rgb(255,86,0)" stroke-width="0.3" /><polygon points="457.6,431.0 492.0,425.2 492.0,428.9 457.9,435.5" fill="rgb(255,168,0)" stroke="rgb(255,168,0)" stroke-width="0.3" /><polygon points="457.9,435.5 492.0,428.9 492.0,432.0 458.1,439.2" fill="rgb(255,239,0)" stroke="rgb(255,239,0)" stroke-width="0.3" /><polygon points="458.1,439.2 492.0,432.0 492.0,435.1 458.3,443.0" fill="rgb(198,255,56)" stroke="rgb(198,255,56)" stroke-width="0.3" /><polygon points="458.3,443.0 492.0,435.1 492.0,438.2 458.5,446.8" fill="rgb(127,255,127)" stroke="rgb(127,255,127)" stroke-width="0.3" /><polygon points="458.5,446.8 492.0,438.2 492.0,441.3 458.7,450.5" fill="rgb(56,255,198)" stroke="rgb(56,255,198)" stroke-width="0.3" /><polygon points="458.7,450.5 492.0,441.3 492.0,444.4 458.9,454.2" fill="rgb(0,229,255)" stroke="rgb(0,229,255)" stroke-width="0.3" /><polygon points="458.9,454.2 492.0,444.4 492.0,447.5 459.2,458.0" fill="rgb(0,147,255)" stroke="rgb(0,147,255)" stroke-width="0.3" /><polygon points="459.2,458.0 492.0,447.5 492.0,452.5 459.5,464.0" fill="rgb(0,56,255)" stroke="rgb(0,56,255)" stroke-width="0.3" /></g>
<polygon points="384.6,428.5 388.5,426.5 388.5,462.0 384.6,458.0" fill="rgb(0,209,255)" stroke="rgb(0,209,255)" stroke-width="0.3" /><polygon points="388.5,426.5 391.0,426.0 391.0,464.0 388.5,462.0" fill="rgb(249,255,5)" stroke="rgb(249,255,5)" stroke-width="0.3" /><polygon points="391.0,426.0 393.5,430.0 393.5,466.0 391.0,464.0" fill="rgb(25,255,229)" stroke="rgb(25,255,229)" stroke-width="0.3" /><polygon points="393.5,430.0 400.0,430.5 400.0,465.5 393.5,466.0" fill="rgb(45,255,209)" stroke="rgb(45,255,209)" stroke-width="0.3" /><polygon points="400.0,430.5 407.0,431.0 407.0,463.0 400.0,465.5" fill="rgb(66,255,188)" stroke="rgb(66,255,188)" stroke-width="0.3" /><polygon points="407.0,431.0 412.0,429.0 412.0,460.0 407.0,463.0" fill="rgb(147,255,107)" stroke="rgb(147,255,107)" stroke-width="0.3" /><polygon points="412.0,429.0 416.4,428.5 416.4,463.0 412.0,460.0" fill="rgb(127,255,127)" stroke="rgb(127,255,127)" stroke-width="0.3" /><polygon points="416.4,428.5 418.5,426.0 418.5,469.0 416.4,463.0" fill="rgb(255,219,0)" stroke="rgb(255,219,0)" stroke-width="0.3" /><polygon points="418.5,426.0 420.4,428.0 420.4,466.0 418.5,469.0" fill="rgb(0,239,255)" stroke="rgb(0,239,255)" stroke-width="0.3" /><polygon points="420.4,428.0 422.5,427.0 422.5,470.0 420.4,466.0" fill="rgb(0,178,255)" stroke="rgb(0,178,255)" stroke-width="0.3" /><polygon points="422.5,427.0 424.4,423.5 424.4,469.3 422.5,470.0" fill="rgb(255,239,0)" stroke="rgb(255,239,0)" stroke-width="0.3" /><polygon points="424.4,423.5 429.0,424.0 429.0,469.0 424.4,469.3" fill="rgb(255,219,0)" stroke="rgb(255,219,0)" stroke-width="0.3" /><polygon points="429.0,424.0 434.5,426.0 434.5,470.0 429.0,469.0" fill="rgb(0,178,255)" stroke="rgb(0,178,255)" stroke-width="0.3" /><polygon points="434.5,426.0 437.6,426.0 437.6,470.0 434.5,470.0" fill="rgb(0,96,255)" stroke="rgb(0,96,255)" stroke-width="0.3" />
<polygon points="384.6,428.5 388.5,426.5 386.0,445.0 383.5,456.0" fill="rgb(0,178,255)" stroke="rgb(0,178,255)" stroke-width="0.3" />
<polygon points="393.5,466.5 400.0,464.5 407.0,463.0 412.0,460.0 416.4,463.0 410.0,467.0 400.0,468.0" fill="#0000b0" stroke="#0000b0" stroke-width="0.3" />
<polygon points="390.5,423.5 392.0,421.6 400.0,418.5 409.1,414.1 433.2,395.3 479.6,405.8 479.6,418.0 457.0,420.8 436.0,422.5 429.0,424.6 424.4,424.6 420.4,432.5 416.4,429.5 412.0,431.5 407.0,430.5 400.0,433.5 393.5,431.5 390.5,429.0" fill="url(#redtop)" stroke="url(#redtop)" stroke-width="0.3" />
<polygon points="405.0,419.0 420.0,410.0 448.0,412.0 440.0,420.0 415.0,423.0" fill="#b00000" stroke="#b00000" stroke-width="0.3" opacity="0.55"/>
<polygon points="390.5,424.0 395.0,421.8 398.0,429.5 393.5,431.5 390.5,429.0" fill="#ffa000" stroke="#ffa000" stroke-width="0.3" />
<polygon points="399.0,430.5 405.0,427.5 410.0,430.5 404.0,433.0" fill="#ff7400" stroke="#ff7400" stroke-width="0.3" />
<polygon points="413.0,428.5 418.5,424.0 421.5,430.0 417.0,431.5" fill="#ffc800" stroke="#ffc800" stroke-width="0.3" />
<polygon points="424.4,424.6 429.0,424.0 436.0,424.5 431.0,430.0 426.0,431.0" fill="#ff5000" stroke="#ff5000" stroke-width="0.3" />
<line x1="361.9" y1="473.0" x2="432.4" y2="490.6" stroke="#555" stroke-width="0.7"/>
<line x1="432.4" y1="490.6" x2="491.3" y2="471.2" stroke="#555" stroke-width="0.7"/>
<text x="354.5" y="404.8" font-size="7" text-anchor="middle" font-family='"Liberation Serif", serif' >100</text>
<text x="356.4" y="437.4" font-size="7" text-anchor="middle" font-family='"Liberation Serif", serif' >50</text>
<text x="357.7" y="470.2" font-size="7" text-anchor="middle" font-family='"Liberation Serif", serif' >0</text>
<text x="363" y="483.2" font-size="7" text-anchor="middle" font-family='"Liberation Serif", serif' >800</text>
<text x="379" y="487" font-size="7" text-anchor="middle" font-family='"Liberation Serif", serif' >600</text>
<text x="395.8" y="490.6" font-size="7" text-anchor="middle" font-family='"Liberation Serif", serif' >400</text>
<text x="410.6" y="493.6" font-size="7" text-anchor="middle" font-family='"Liberation Serif", serif' >200</text>
<text x="428.2" y="497.6" font-size="7" text-anchor="middle" font-family='"Liberation Serif", serif' >0</text>
<text x="435.9" y="497.6" font-size="7" text-anchor="middle" font-family='"Liberation Serif", serif' >1</text>
<text x="445.3" y="495.2" font-size="7" text-anchor="middle" font-family='"Liberation Serif", serif' >10</text>
<text x="455.3" y="492.2" font-size="7" text-anchor="middle" font-family='"Liberation Serif", serif' >20</text>
<text x="465.3" y="488.7" font-size="7" text-anchor="middle" font-family='"Liberation Serif", serif' >30</text>
<text x="475.4" y="485.8" font-size="7" text-anchor="middle" font-family='"Liberation Serif", serif' >40</text>
<text x="485.4" y="482.2" font-size="7" text-anchor="middle" font-family='"Liberation Serif", serif' >50</text>
<text x="495.4" y="478.7" font-size="7" text-anchor="middle" font-family='"Liberation Serif", serif' >60</text>
<text x="0" y="0" font-size="6.6" text-anchor="middle" font-family='"Liberation Serif", serif' font-style="italic" transform="translate(343.6,439.5) rotate(-90)" textLength="64" lengthAdjust="spacingAndGlyphs">Normalized intensity</text>
<text x="0" y="0" font-size="7.2" text-anchor="middle" font-family='"Liberation Serif", serif' font-style="italic" transform="translate(384.5,501) rotate(14)" textLength="41" lengthAdjust="spacingAndGlyphs">Distance(µm)</text>
<text x="0" y="0" font-size="7.2" text-anchor="middle" font-family='"Liberation Serif", serif' font-style="italic" transform="translate(474.5,499.5) rotate(-18)" textLength="24" lengthAdjust="spacingAndGlyphs">Time(s)</text>
<rect x="507.1" y="382.9" width="9.5" height="107.6" fill="url(#jetbar2)" stroke="#333" stroke-width="0.6"/>
<line x1="514.8" y1="389.5" x2="516.6" y2="389.5" stroke="#333" stroke-width="0.5"/>
<text x="519.5" y="391.7" font-size="7" text-anchor="start" font-family='"Liberation Serif", serif' >80</text>
<line x1="514.8" y1="415" x2="516.6" y2="415" stroke="#333" stroke-width="0.5"/>
<text x="519.5" y="417.2" font-size="7" text-anchor="start" font-family='"Liberation Serif", serif' >60</text>
<line x1="514.8" y1="440.7" x2="516.6" y2="440.7" stroke="#333" stroke-width="0.5"/>
<text x="519.5" y="442.9" font-size="7" text-anchor="start" font-family='"Liberation Serif", serif' >40</text>
<line x1="514.8" y1="465.9" x2="516.6" y2="465.9" stroke="#333" stroke-width="0.5"/>
<text x="519.5" y="468.09999999999997" font-size="7" text-anchor="start" font-family='"Liberation Serif", serif' >20</text>
<line x1="556.7" y1="394.3" x2="649.9" y2="384.9" stroke="#6a6a6a" stroke-width="0.55"/>
<line x1="649.9" y1="384.9" x2="675.5" y2="415.9" stroke="#6a6a6a" stroke-width="0.55"/>
<line x1="649.9" y1="384.9" x2="651.2" y2="440.2" stroke="#6a6a6a" stroke-width="0.55"/>
<line x1="556.7" y1="451.0" x2="651.2" y2="440.2" stroke="#6a6a6a" stroke-width="0.55"/>
<line x1="651.2" y1="440.2" x2="675.5" y2="474.0" stroke="#6a6a6a" stroke-width="0.55"/>
<line x1="556.7" y1="394.3" x2="556.7" y2="451.0" stroke="#6a6a6a" stroke-width="0.55"/>
<line x1="675.5" y1="415.9" x2="675.5" y2="474.0" stroke="#6a6a6a" stroke-width="0.55"/>
<line x1="556.7" y1="451.0" x2="581.0" y2="484.8" stroke="#555" stroke-width="0.7"/>
<line x1="581.0" y1="484.8" x2="675.5" y2="474.0" stroke="#555" stroke-width="0.7"/>
<polygon points="614.8,443.1 671.4,446.5 672.0,449.7 615.4,447.1" fill="rgb(178,255,76)" stroke="rgb(178,255,76)" stroke-width="0.3" /><polygon points="615.4,447.1 672.0,449.7 672.9,454.5 616.4,453.2" fill="rgb(45,255,209)" stroke="rgb(45,255,209)" stroke-width="0.3" /><polygon points="616.4,453.2 672.9,454.5 673.6,457.7 617.0,457.3" fill="rgb(0,239,255)" stroke="rgb(0,239,255)" stroke-width="0.3" /><polygon points="617.0,457.3 673.6,457.7 674.2,460.9 617.6,461.3" fill="rgb(0,168,255)" stroke="rgb(0,168,255)" stroke-width="0.3" /><polygon points="617.6,461.3 674.2,460.9 674.8,464.1 618.3,465.4" fill="rgb(0,86,255)" stroke="rgb(0,86,255)" stroke-width="0.3" /><polygon points="618.3,465.4 674.8,464.1 675.4,467.3 618.9,469.4" fill="rgb(0,5,255)" stroke="rgb(0,5,255)" stroke-width="0.3" />
<polygon points="614.0,443.1 629.0,444.0 629.0,449.4 615.0,448.8" fill="rgb(229,255,25)" stroke="rgb(229,255,25)" stroke-width="0.3" /><polygon points="615.0,448.8 629.0,449.4 629.0,454.9 616.1,454.5" fill="rgb(107,255,147)" stroke="rgb(107,255,147)" stroke-width="0.3" /><polygon points="616.1,454.5 629.0,454.9 629.0,458.5 616.8,458.2" fill="rgb(5,255,249)" stroke="rgb(5,255,249)" stroke-width="0.3" /><polygon points="616.8,458.2 629.0,458.5 629.0,462.1 617.5,462.0" fill="rgb(0,178,255)" stroke="rgb(0,178,255)" stroke-width="0.3" /><polygon points="617.5,462.0 629.0,462.1 629.0,465.8 618.2,465.8" fill="rgb(0,76,255)" stroke="rgb(0,76,255)" stroke-width="0.3" /><polygon points="618.2,465.8 629.0,465.8 629.0,469.4 618.9,469.6" fill="rgb(0,0,249)" stroke="rgb(0,0,249)" stroke-width="0.3" />
<polygon points="613.5,437.7 659.3,429.0 662.1,433.2 614.0,439.0" fill="rgb(45,255,209)" stroke="rgb(45,255,209)" stroke-width="0.3" /><polygon points="614.0,439.0 662.1,433.2 665.0,437.4 614.5,440.4" fill="rgb(15,255,239)" stroke="rgb(15,255,239)" stroke-width="0.3" /><polygon points="614.5,440.4 665.0,437.4 667.9,441.6 615.0,441.7" fill="rgb(0,239,255)" stroke="rgb(0,239,255)" stroke-width="0.3" /><polygon points="615.0,441.7 667.9,441.6 670.7,445.8 615.5,443.0" fill="rgb(0,209,255)" stroke="rgb(0,209,255)" stroke-width="0.3" />
<polygon points="659.3,429.0 664.0,431.0 668.5,435.0 670.7,440.0 670.9,445.8 668.0,445.0" fill="rgb(0,209,255)" stroke="rgb(0,209,255)" stroke-width="0.3" />
<polygon points="609.4,418.9 654.5,424.2 654.5,424.8 609.7,420.9" fill="rgb(178,255,76)" stroke="rgb(178,255,76)" stroke-width="0.3" /><polygon points="609.7,420.9 654.5,424.8 654.5,426.0 610.4,424.8" fill="rgb(96,255,158)" stroke="rgb(96,255,158)" stroke-width="0.3" /><polygon points="610.4,424.8 654.5,426.0 654.5,427.2 611.1,428.7" fill="rgb(25,255,229)" stroke="rgb(25,255,229)" stroke-width="0.3" /><polygon points="611.1,428.7 654.5,427.2 654.5,428.4 611.8,432.6" fill="rgb(0,209,255)" stroke="rgb(0,209,255)" stroke-width="0.3" /><polygon points="611.8,432.6 654.5,428.4 654.5,429.6 612.5,436.5" fill="rgb(0,127,255)" stroke="rgb(0,127,255)" stroke-width="0.3" />
<polygon points="556.9,421.5 577.6,425.5 577.6,427.3 556.9,424.9" fill="rgb(249,255,5)" stroke="rgb(249,255,5)" stroke-width="0.3" /><polygon points="556.9,424.9 577.6,427.3 577.6,429.1 556.9,428.3" fill="rgb(147,255,107)" stroke="rgb(147,255,107)" stroke-width="0.3" /><polygon points="556.9,428.3 577.6,429.1 577.6,430.8 556.9,431.6" fill="rgb(45,255,209)" stroke="rgb(45,255,209)" stroke-width="0.3" /><polygon points="556.9,431.6 577.6,430.8 577.6,432.6 556.9,435.0" fill="rgb(0,198,255)" stroke="rgb(0,198,255)" stroke-width="0.3" /><polygon points="556.9,435.0 577.6,432.6 577.6,434.4 556.9,438.4" fill="rgb(0,76,255)" stroke="rgb(0,76,255)" stroke-width="0.3" />
<polygon points="560.2,407.2 577.6,431.5 577.6,426.0 560.2,424.6" fill="#e00000" stroke="#e00000" stroke-width="0.3" />
<polygon points="560.2,414.7 569.7,420.6 560.2,424.6" fill="#ff2800" stroke="#ff2800" stroke-width="0.3" />
<polygon points="556.9,421.5 560.2,414.7 560.2,424.6 556.9,424.6" fill="rgb(249,255,5)" stroke="rgb(249,255,5)" stroke-width="0.3" />
<polygon points="577.6,431.5 609.1,426.5 610.0,433.4 578.2,437.4" fill="rgb(229,0,0)" stroke="rgb(229,0,0)" stroke-width="0.3" /><polygon points="578.2,437.4 610.0,433.4 610.8,439.1 578.7,442.3" fill="rgb(255,117,0)" stroke="rgb(255,117,0)" stroke-width="0.3" /><polygon points="578.7,442.3 610.8,439.1 611.6,444.8 579.2,447.2" fill="rgb(255,219,0)" stroke="rgb(255,219,0)" stroke-width="0.3" /><polygon points="579.2,447.2 611.6,444.8 612.4,450.5 579.8,452.2" fill="rgb(209,255,45)" stroke="rgb(209,255,45)" stroke-width="0.3" /><polygon points="579.8,452.2 612.4,450.5 612.8,453.9 580.1,455.1" fill="rgb(127,255,127)" stroke="rgb(127,255,127)" stroke-width="0.3" /><polygon points="580.1,455.1 612.8,453.9 613.3,457.3 580.4,458.1" fill="rgb(35,255,219)" stroke="rgb(35,255,219)" stroke-width="0.3" /><polygon points="580.4,458.1 613.3,457.3 613.9,461.9 580.8,462.0" fill="rgb(0,188,255)" stroke="rgb(0,188,255)" stroke-width="0.3" /><polygon points="580.8,462.0 613.9,461.9 615.0,469.9 581.5,468.9" fill="rgb(0,45,255)" stroke="rgb(0,45,255)" stroke-width="0.3" />
<polygon points="609.1,426.5 612.5,436.5 615.5,443.0 619.5,469.6 612.5,469.9 611.0,445.0 609.0,436.0" fill="rgb(0,178,255)" stroke="rgb(0,178,255)" stroke-width="0.3" />
<polygon points="614.5,443.5 619.5,469.6 615.5,469.8" fill="rgb(0,76,255)" stroke="rgb(0,76,255)" stroke-width="0.3" />
<polygon points="560.2,407.2 591.4,404.5 609.1,426.5 577.6,431.5" fill="#800000" stroke="#800000" stroke-width="0.3" />
<line x1="556.7" y1="451.0" x2="581.0" y2="484.8" stroke="#555" stroke-width="0.7"/>
<line x1="581.0" y1="484.8" x2="675.5" y2="474.0" stroke="#555" stroke-width="0.7"/>
<line x1="556.7" y1="445.6" x2="558.4" y2="445.3" stroke="#6a6a6a" stroke-width="0.55"/>
<line x1="556.7" y1="419.4" x2="558.4" y2="419.09999999999997" stroke="#6a6a6a" stroke-width="0.55"/>
<line x1="556.7" y1="393" x2="558.4" y2="392.7" stroke="#6a6a6a" stroke-width="0.55"/>
<text x="548.5" y="395.2" font-size="7" text-anchor="middle" font-family='"Liberation Serif", serif' >100</text>
<text x="551.3" y="421.6" font-size="7" text-anchor="middle" font-family='"Liberation Serif", serif' >50</text>
<text x="553.2" y="447.8" font-size="7" text-anchor="middle" font-family='"Liberation Serif", serif' >0</text>
<text x="552.4" y="463.2" font-size="7" text-anchor="middle" font-family='"Liberation Serif", serif' >800</text>
<text x="558.3" y="470.6" font-size="7" text-anchor="middle" font-family='"Liberation Serif", serif' >600</text>
<text x="564.5" y="478.3" font-size="7" text-anchor="middle" font-family='"Liberation Serif", serif' >400</text>
<text x="570.1" y="485.9" font-size="7" text-anchor="middle" font-family='"Liberation Serif", serif' >200</text>
<text x="581.9" y="491.8" font-size="7" text-anchor="middle" font-family='"Liberation Serif", serif' >0300</text>
<text x="604.6" y="491" font-size="7" text-anchor="middle" font-family='"Liberation Serif", serif' >500</text>
<text x="626.2" y="487" font-size="7" text-anchor="middle" font-family='"Liberation Serif", serif' >700</text>
<text x="645.1" y="482.9" font-size="7" text-anchor="middle" font-family='"Liberation Serif", serif' >900</text>
<text x="666" y="480.2" font-size="7" text-anchor="middle" font-family='"Liberation Serif", serif' >1,100</text>
<text x="0" y="0" font-size="6.6" text-anchor="middle" font-family='"Liberation Serif", serif' font-style="italic" transform="translate(538.5,416) rotate(-90)" textLength="62" lengthAdjust="spacingAndGlyphs">Normalized intensity</text>
<text x="0" y="0" font-size="7.2" text-anchor="middle" font-family='"Liberation Serif", serif' font-style="italic" transform="translate(553.6,486.6) rotate(48.6)" textLength="39" lengthAdjust="spacingAndGlyphs">Distance(µm)</text>
<text x="635" y="499.2" font-size="7.2" text-anchor="middle" font-family='"Liberation Serif", serif' font-style="italic" textLength="22" lengthAdjust="spacingAndGlyphs">Time(s)</text>
<text x="0" y="0" font-size="21.5" font-family='"Liberation Sans", sans-serif' transform="translate(15.1,15.7) scale(0.78,1)">a</text>
<text x="414.4" y="17.6" font-size="21.5" text-anchor="start" font-family='"Liberation Sans", sans-serif' fill="#000" >b</text>
<text x="0" y="0" font-size="21.5" font-family='"Liberation Sans", sans-serif' transform="translate(15.4,298.5) scale(0.93,1)">c</text>
<text x="334.4" y="298.5" font-size="21.5" text-anchor="start" font-family='"Liberation Sans", sans-serif' fill="#000" >d</text>
<text x="81.1" y="29.7" font-size="16" text-anchor="middle" font-family='"Liberation Serif", serif' fill="#000" >i</text>
<text x="291.75" y="29.6" font-size="16" text-anchor="middle" font-family='"Liberation Serif", serif' fill="#000" textLength="8" lengthAdjust="spacingAndGlyphs">ii</text>
<text x="102.2" y="302.8" font-size="17" text-anchor="middle" font-family='"Liberation Serif", serif' fill="#000" >i</text>
<text x="228.1" y="302.8" font-size="17" text-anchor="middle" font-family='"Liberation Serif", serif' fill="#000" textLength="8" lengthAdjust="spacingAndGlyphs">ii</text>
<text x="420.0" y="346.8" font-size="16" text-anchor="middle" font-family='"Liberation Serif", serif' fill="#000" >i</text>
<text x="604.25" y="347" font-size="16" text-anchor="middle" font-family='"Liberation Serif", serif' fill="#000" textLength="8" lengthAdjust="spacingAndGlyphs">ii</text>
<line x1="207.3" y1="63.0" x2="207.3" y2="192.3" stroke="#868686" stroke-width="1"/>
<line x1="207.3" y1="192.3" x2="388.25" y2="192.3" stroke="#868686" stroke-width="1"/>
<line x1="203.3" y1="192.3" x2="207.3" y2="192.3" stroke="#868686" stroke-width="1"/>
<text x="195" y="196.6" font-size="11" text-anchor="end" font-family='"Liberation Sans", sans-serif' fill="#000" >0</text>
<line x1="203.3" y1="166.5" x2="207.3" y2="166.5" stroke="#868686" stroke-width="1"/>
<text x="195" y="170.8" font-size="11" text-anchor="end" font-family='"Liberation Sans", sans-serif' fill="#000" >0.2</text>
<line x1="203.3" y1="140.8" x2="207.3" y2="140.8" stroke="#868686" stroke-width="1"/>
<text x="195" y="145.1" font-size="11" text-anchor="end" font-family='"Liberation Sans", sans-serif' fill="#000" >0.4</text>
<line x1="203.3" y1="115.0" x2="207.3" y2="115.0" stroke="#868686" stroke-width="1"/>
<text x="195" y="119.3" font-size="11" text-anchor="end" font-family='"Liberation Sans", sans-serif' fill="#000" >0.6</text>
<line x1="203.3" y1="89.3" x2="207.3" y2="89.3" stroke="#868686" stroke-width="1"/>
<text x="195" y="93.6" font-size="11" text-anchor="end" font-family='"Liberation Sans", sans-serif' fill="#000" >0.8</text>
<line x1="203.3" y1="63.5" x2="207.3" y2="63.5" stroke="#868686" stroke-width="1"/>
<text x="195" y="67.8" font-size="11" text-anchor="end" font-family='"Liberation Sans", sans-serif' fill="#000" >1</text>
<line x1="207.3" y1="192.3" x2="207.3" y2="196.3" stroke="#868686" stroke-width="1"/>
<text x="207.3" y="214" font-size="11" text-anchor="middle" font-family='"Liberation Sans", sans-serif' fill="#000" >0</text>
<line x1="240.2" y1="192.3" x2="240.2" y2="196.3" stroke="#868686" stroke-width="1"/>
<text x="240.2" y="214" font-size="11" text-anchor="middle" font-family='"Liberation Sans", sans-serif' fill="#000" >200</text>
<line x1="273.1" y1="192.3" x2="273.1" y2="196.3" stroke="#868686" stroke-width="1"/>
<text x="273.1" y="214" font-size="11" text-anchor="middle" font-family='"Liberation Sans", sans-serif' fill="#000" >400</text>
<line x1="306.0" y1="192.3" x2="306.0" y2="196.3" stroke="#868686" stroke-width="1"/>
<text x="306.0" y="214" font-size="11" text-anchor="middle" font-family='"Liberation Sans", sans-serif' fill="#000" >600</text>
<line x1="338.9" y1="192.3" x2="338.9" y2="196.3" stroke="#868686" stroke-width="1"/>
<text x="338.9" y="214" font-size="11" text-anchor="middle" font-family='"Liberation Sans", sans-serif' fill="#000" >800</text>
<line x1="371.8" y1="192.3" x2="371.8" y2="196.3" stroke="#868686" stroke-width="1"/>
<text x="371.8" y="214" font-size="11" text-anchor="middle" font-family='"Liberation Sans", sans-serif' fill="#000" >1000</text>
<text x="297.3" y="237" font-size="14" text-anchor="middle" font-family='"Liberation Sans", sans-serif' fill="#000" textLength="87.5" lengthAdjust="spacingAndGlyphs">Distance (µm)</text>
<text x="0" y="0" font-size="14" text-anchor="middle" font-family='"Liberation Sans", sans-serif' fill="#000" transform="translate(170.5,132) rotate(-90)" textLength="126" lengthAdjust="spacingAndGlyphs">Nomalized intensity</text>
<text x="204" y="43.3" font-size="13" text-anchor="start" font-family='"Liberation Sans", sans-serif' fill="#000" textLength="87.3" lengthAdjust="spacingAndGlyphs">Microchannel</text>
<line x1="237" y1="63.4" x2="264" y2="63.4" stroke="#000" stroke-width="1.3"/>
<polyline points="257.4,59.2 264.6,63.5 257.4,67.9" fill="none" stroke="#000" stroke-width="2.7" stroke-linejoin="miter" stroke-linecap="round"/>
<polyline points="207.3,190.8 208.0,190.4 208.6,191.0 209.3,191.6 209.9,191.1 210.6,191.6 211.2,190.5 211.9,189.2 212.6,191.0 213.2,191.1 213.9,190.0 214.5,190.1 215.2,190.3 215.9,191.4 216.5,190.4 217.2,189.6 217.8,191.7 218.5,190.8 219.1,192.2 219.8,191.6 220.5,192.1 221.1,190.4 221.8,191.5 222.4,189.8 223.1,189.9 223.8,190.3 224.4,192.3 225.1,190.6 225.7,190.0 226.4,189.8 227.0,191.5 227.7,190.4 228.4,190.9 229.0,190.7 229.7,188.7 230.3,190.6 231.0,189.8 231.6,188.8 232.3,190.3 233.0,189.8 233.6,189.5 234.3,189.6 234.9,190.9 235.6,189.5 236.3,188.2 236.9,191.1 237.6,188.6 238.2,189.4 238.9,190.1 239.5,187.4 240.2,188.6 240.9,190.6 241.5,189.3 242.2,188.7 242.8,189.5 243.5,188.6 244.1,189.3 244.8,188.5 245.5,187.7 246.1,189.9 246.8,188.9 247.4,189.6 248.1,189.0 248.8,190.2 249.4,189.4 250.1,188.9 250.7,187.6 251.4,187.1 252.0,189.5 252.7,188.8 253.4,187.2 254.0,189.7 254.7,188.0 255.3,187.4 256.0,185.9 256.7,186.3 257.3,187.2 258.0,187.0 258.6,186.7 259.3,184.7 259.9,186.6 260.6,186.3 261.3,185.4 261.9,185.8 262.6,185.7 263.2,186.5 263.9,185.2 264.5,185.4 265.2,183.6 265.9,184.0 266.5,184.5 267.2,183.6 267.8,184.5 268.5,182.9 269.2,183.7 269.8,182.8 270.5,184.4 271.1,182.4 271.8,184.2 272.4,184.3 273.1,182.2 273.8,182.5 274.4,181.1 275.1,178.6 275.7,181.3 276.4,179.9 277.0,177.8 277.7,176.3 278.4,175.9 279.0,175.0 279.7,173.9 280.3,173.9 281.0,175.4 281.7,170.8 282.3,163.5 283.0,157.5 283.6,149.8 284.3,147.0 284.9,141.2 285.6,138.1 286.3,134.2 286.9,131.9 287.6,128.4 288.2,127.3 288.9,123.4 289.6,120.2 290.2,121.6 290.9,117.4 291.5,120.4 292.2,118.6 292.8,121.0 293.5,123.7 294.2,128.8 294.8,134.8 295.5,136.5 296.1,140.8 296.8,146.9 297.4,151.7 298.1,155.3 298.8,159.2 299.4,160.0 300.1,163.1 300.7,162.4 301.4,163.5 302.1,164.2 302.7,165.7 303.4,164.0 304.0,166.3 304.7,166.0 305.3,167.8 306.0,169.3 306.7,169.8 307.3,171.7 308.0,173.0 308.6,175.4 309.3,177.3 309.9,180.4 310.6,181.7 311.3,181.1 311.9,185.1 312.6,185.7 313.2,184.5 313.9,183.7 314.6,186.9 315.2,185.9 315.9,186.6 316.5,188.0 317.2,185.6 317.8,186.7 318.5,186.8 319.2,187.9 319.8,187.0 320.5,188.2 321.1,188.1 321.8,189.3 322.5,189.7 323.1,187.1 323.8,189.0 324.4,188.2 325.1,188.6 325.7,189.0 326.4,189.1 327.1,187.9 327.7,188.9 328.4,188.8 329.0,188.6 329.7,187.5 330.3,188.0 331.0,188.3 331.7,189.3 332.3,190.2 333.0,187.8 333.6,187.8 334.3,189.0 335.0,188.3 335.6,188.1 336.3,188.1 336.9,188.0 337.6,189.4 338.2,187.4 338.9,190.3 339.6,188.2 340.2,188.6 340.9,188.2 341.5,187.2 342.2,187.6 342.8,190.3 343.5,190.9 344.2,188.4 344.8,190.3 345.5,189.3 346.1,188.4 346.8,191.0 347.5,191.5 348.1,189.1 348.8,189.3 349.4,189.6 350.1,189.4 350.7,190.3 351.4,191.0 352.1,189.7 352.7,190.5 353.4,191.2 354.0,189.0 354.7,189.6 355.4,189.2 356.0,190.6 356.7,190.3 357.3,190.7 358.0,190.6 358.6,189.5 359.3,190.5 360.0,189.4 360.6,189.4 361.3,187.7 361.9,191.3 362.6,188.9 363.2,190.0 363.9,189.9 364.6,191.4 365.2,190.4 365.9,189.2 366.5,190.1 367.2,189.9 367.9,190.3 368.5,188.9 369.2,190.1 369.8,192.3 370.5,190.8 371.1,192.2 371.8,192.3 372.5,190.7 373.1,188.8 373.8,190.2 374.4,191.5 375.1,191.3 375.7,189.1 376.4,190.2 377.1,190.3 377.7,190.4 378.4,190.4 379.0,189.6 379.7,189.9 380.4,190.3 381.0,191.6 381.7,190.0 382.3,191.3 383.0,189.4 383.6,191.9 384.3,190.8 385.0,190.6 385.6,192.0 386.3,188.9 386.9,189.2 387.6,191.2 388.2,190.0" fill="none" stroke="#4f81bd" stroke-width="1.45" stroke-linejoin="round" />
<polyline points="207.3,184.1 208.0,187.9 208.6,184.2 209.3,184.6 209.9,184.4 210.6,185.9 211.2,184.8 211.9,184.7 212.6,182.9 213.2,184.0 213.9,184.4 214.5,182.4 215.2,185.0 215.9,184.8 216.5,186.6 217.2,182.2 217.8,183.0 218.5,183.0 219.1,183.3 219.8,184.0 220.5,183.9 221.1,184.5 221.8,184.4 222.4,184.0 223.1,182.1 223.8,183.3 224.4,184.1 225.1,184.8 225.7,184.8 226.4,181.9 227.0,183.3 227.7,183.8 228.4,184.2 229.0,185.0 229.7,183.5 230.3,182.1 231.0,183.6 231.6,183.2 232.3,183.0 233.0,182.5 233.6,184.5 234.3,182.6 234.9,183.2 235.6,180.8 236.3,182.8 236.9,180.8 237.6,179.5 238.2,181.7 238.9,181.9 239.5,180.7 240.2,180.8 240.9,181.9 241.5,179.8 242.2,177.7 242.8,180.4 243.5,180.2 244.1,181.1 244.8,179.2 245.5,181.0 246.1,180.7 246.8,177.4 247.4,180.1 248.1,177.4 248.8,176.6 249.4,178.1 250.1,177.5 250.7,175.5 251.4,177.8 252.0,177.8 252.7,178.2 253.4,175.9 254.0,173.6 254.7,173.7 255.3,175.7 256.0,175.1 256.7,174.1 257.3,172.6 258.0,172.7 258.6,171.7 259.3,171.0 259.9,170.0 260.6,167.3 261.3,164.7 261.9,162.7 262.6,159.7 263.2,155.6 263.9,154.9 264.5,153.3 265.2,153.3 265.9,143.7 266.5,139.9 267.2,132.3 267.8,122.5 268.5,115.8 269.2,114.7 269.8,115.9 270.5,113.5 271.1,112.3 271.8,106.3 272.4,100.0 273.1,98.4 273.8,98.7 274.4,98.2 275.1,95.8 275.7,95.0 276.4,95.3 277.0,92.7 277.7,93.3 278.4,89.9 279.0,89.5 279.7,89.0 280.3,90.6 281.0,88.8 281.7,86.6 282.3,81.2 283.0,75.4 283.6,70.9 284.3,65.4 284.9,63.5 285.6,63.5 286.3,63.5 286.9,63.5 287.6,63.5 288.2,63.5 288.9,63.5 289.6,63.5 290.2,63.5 290.9,63.5 291.5,63.5 292.2,63.5 292.8,63.5 293.5,63.5 294.2,63.5 294.8,63.5 295.5,63.5 296.1,63.5 296.8,63.5 297.4,63.5 298.1,63.9 298.8,68.6 299.4,68.7 300.1,77.1 300.7,79.6 301.4,85.3 302.1,85.0 302.7,88.1 303.4,87.2 304.0,86.2 304.7,89.8 305.3,87.5 306.0,89.2 306.7,91.7 307.3,93.0 308.0,95.4 308.6,97.2 309.3,100.3 309.9,103.1 310.6,105.7 311.3,112.4 311.9,118.5 312.6,122.7 313.2,127.3 313.9,136.2 314.6,138.1 315.2,142.2 315.9,145.9 316.5,146.8 317.2,151.8 317.8,152.5 318.5,158.7 319.2,159.8 319.8,161.6 320.5,163.2 321.1,162.5 321.8,164.4 322.5,164.4 323.1,166.2 323.8,168.5 324.4,168.2 325.1,168.9 325.7,168.7 326.4,172.1 327.1,171.9 327.7,175.1 328.4,173.0 329.0,176.0 329.7,177.1 330.3,175.0 331.0,173.6 331.7,177.2 332.3,176.8 333.0,176.5 333.6,177.2 334.3,175.4 335.0,177.1 335.6,177.2 336.3,175.6 336.9,177.5 337.6,176.2 338.2,178.1 338.9,178.6 339.6,179.6 340.2,175.0 340.9,178.0 341.5,177.4 342.2,177.9 342.8,177.8 343.5,178.2 344.2,175.9 344.8,179.9 345.5,180.7 346.1,180.2 346.8,180.8 347.5,178.3 348.1,178.3 348.8,180.7 349.4,181.4 350.1,180.1 350.7,177.9 351.4,183.5 352.1,179.2 352.7,181.4 353.4,178.7 354.0,181.6 354.7,180.6 355.4,182.3 356.0,181.7 356.7,178.7 357.3,179.5 358.0,181.2 358.6,181.9 359.3,183.3 360.0,181.4 360.6,181.0 361.3,181.2 361.9,181.3 362.6,182.7 363.2,181.4 363.9,181.5 364.6,179.9 365.2,179.2 365.9,181.9 366.5,182.8 367.2,181.9 367.9,182.7 368.5,183.0 369.2,182.2 369.8,183.5 370.5,181.5 371.1,182.5 371.8,182.1 372.5,182.8 373.1,183.6 373.8,183.9 374.4,183.1 375.1,183.6 375.7,182.7 376.4,183.1 377.1,184.9 377.7,183.1 378.4,185.0 379.0,184.2 379.7,183.8 380.4,186.2 381.0,183.5 381.7,183.5 382.3,184.0 383.0,184.4 383.6,184.5 384.3,185.3 385.0,184.5 385.6,184.9 386.3,184.2 386.9,186.0 387.6,184.2 388.2,184.4" fill="none" stroke="#c0504d" stroke-width="1.45" stroke-linejoin="round" />
<polyline points="207.3,184.1 208.0,184.6 208.6,183.0 209.3,186.4 209.9,183.1 210.6,183.4 211.2,183.3 211.9,183.1 212.6,184.6 213.2,184.0 213.9,182.6 214.5,182.9 215.2,183.2 215.9,185.8 216.5,182.6 217.2,181.6 217.8,181.8 218.5,182.9 219.1,185.7 219.8,181.8 220.5,183.4 221.1,187.1 221.8,182.5 222.4,185.4 223.1,185.0 223.8,184.0 224.4,181.0 225.1,183.5 225.7,182.5 226.4,180.1 227.0,180.3 227.7,182.9 228.4,182.9 229.0,184.2 229.7,183.1 230.3,181.1 231.0,180.9 231.6,181.1 232.3,179.5 233.0,182.0 233.6,180.6 234.3,179.2 234.9,179.2 235.6,178.2 236.3,179.0 236.9,179.8 237.6,178.5 238.2,180.4 238.9,181.1 239.5,177.4 240.2,178.2 240.9,177.4 241.5,180.2 242.2,177.9 242.8,178.0 243.5,178.2 244.1,180.1 244.8,176.9 245.5,174.7 246.1,175.2 246.8,176.0 247.4,174.5 248.1,172.6 248.8,177.4 249.4,172.6 250.1,170.9 250.7,170.1 251.4,167.8 252.0,168.0 252.7,168.6 253.4,168.0 254.0,166.6 254.7,168.0 255.3,165.7 256.0,161.9 256.7,158.0 257.3,158.9 258.0,156.4 258.6,153.7 259.3,149.6 259.9,149.4 260.6,144.8 261.3,145.9 261.9,142.0 262.6,139.4 263.2,135.2 263.9,132.1 264.5,133.4 265.2,129.8 265.9,125.1 266.5,123.8 267.2,121.5 267.8,114.0 268.5,111.3 269.2,107.7 269.8,105.6 270.5,99.7 271.1,98.7 271.8,95.5 272.4,97.5 273.1,96.3 273.8,93.5 274.4,93.8 275.1,90.5 275.7,90.1 276.4,91.4 277.0,89.4 277.7,89.5 278.4,87.0 279.0,88.9 279.7,88.0 280.3,85.0 281.0,82.8 281.7,79.5 282.3,77.7 283.0,72.7 283.6,65.9 284.3,63.7 284.9,63.5 285.6,63.5 286.3,63.5 286.9,63.5 287.6,63.5 288.2,63.5 288.9,63.5 289.6,63.5 290.2,63.5 290.9,63.5 291.5,63.5 292.2,63.5 292.8,63.5 293.5,63.5 294.2,63.5 294.8,63.5 295.5,63.5 296.1,63.5 296.8,63.5 297.4,63.5 298.1,63.8 298.8,66.3 299.4,75.0 300.1,79.3 300.7,83.4 301.4,79.6 302.1,82.8 302.7,85.2 303.4,84.7 304.0,83.3 304.7,87.6 305.3,88.5 306.0,86.8 306.7,88.7 307.3,89.1 308.0,91.5 308.6,88.0 309.3,88.7 309.9,90.7 310.6,91.6 311.3,99.2 311.9,98.5 312.6,103.2 313.2,105.7 313.9,108.7 314.6,113.7 315.2,119.2 315.9,119.4 316.5,124.5 317.2,127.1 317.8,130.8 318.5,133.7 319.2,139.9 319.8,137.7 320.5,142.5 321.1,144.4 321.8,145.3 322.5,149.6 323.1,153.8 323.8,153.6 324.4,155.4 325.1,155.6 325.7,156.0 326.4,160.5 327.1,158.2 327.7,162.4 328.4,160.9 329.0,162.6 329.7,163.4 330.3,163.5 331.0,164.7 331.7,165.3 332.3,167.5 333.0,165.4 333.6,163.0 334.3,163.3 335.0,164.8 335.6,166.3 336.3,168.9 336.9,166.1 337.6,168.9 338.2,169.4 338.9,170.3 339.6,170.2 340.2,171.5 340.9,171.4 341.5,173.5 342.2,172.9 342.8,169.2 343.5,173.4 344.2,174.1 344.8,173.4 345.5,173.7 346.1,177.0 346.8,176.1 347.5,174.8 348.1,176.3 348.8,176.8 349.4,174.8 350.1,178.4 350.7,177.4 351.4,178.5 352.1,175.6 352.7,181.1 353.4,179.3 354.0,179.2 354.7,177.6 355.4,177.8 356.0,176.8 356.7,181.6 357.3,178.2 358.0,180.0 358.6,180.7 359.3,179.0 360.0,181.5 360.6,183.4 361.3,181.0 361.9,182.9 362.6,181.8 363.2,180.4 363.9,180.6 364.6,178.8 365.2,181.8 365.9,184.0 366.5,183.0 367.2,183.4 367.9,184.1 368.5,181.7 369.2,183.6 369.8,185.8 370.5,181.8 371.1,183.3 371.8,182.7 372.5,183.2 373.1,182.5 373.8,183.5 374.4,181.8 375.1,183.1 375.7,183.3 376.4,183.4 377.1,186.4 377.7,184.5 378.4,184.7 379.0,184.1 379.7,186.6 380.4,182.1 381.0,184.6 381.7,186.7 382.3,187.6 383.0,185.5 383.6,185.3 384.3,186.4 385.0,185.2 385.6,186.4 386.3,184.7 386.9,186.8 387.6,185.8 388.2,184.3" fill="none" stroke="#9bbb59" stroke-width="1.45" stroke-linejoin="round" />
<polyline points="207.3,173.2 208.0,179.9 208.6,178.6 209.3,179.1 209.9,175.7 210.6,179.2 211.2,177.7 211.9,176.6 212.6,178.2 213.2,177.9 213.9,176.8 214.5,179.7 215.2,178.2 215.9,176.0 216.5,174.6 217.2,175.1 217.8,177.9 218.5,175.1 219.1,172.5 219.8,172.7 220.5,173.7 221.1,175.0 221.8,171.9 222.4,174.0 223.1,174.9 223.8,174.0 224.4,169.4 225.1,171.5 225.7,169.5 226.4,172.4 227.0,169.5 227.7,172.2 228.4,170.3 229.0,164.2 229.7,166.5 230.3,168.0 231.0,166.2 231.6,164.4 232.3,161.7 233.0,163.9 233.6,165.4 234.3,161.5 234.9,160.0 235.6,158.8 236.3,155.4 236.9,156.4 237.6,154.4 238.2,156.8 238.9,151.5 239.5,147.6 240.2,148.7 240.9,148.2 241.5,146.8 242.2,142.2 242.8,145.9 243.5,142.8 244.1,140.2 244.8,138.1 245.5,138.9 246.1,135.7 246.8,134.6 247.4,131.5 248.1,129.6 248.8,129.3 249.4,126.0 250.1,130.4 250.7,141.9 251.4,121.9 252.0,117.0 252.7,117.1 253.4,113.8 254.0,115.4 254.7,110.3 255.3,107.2 256.0,106.9 256.7,110.4 257.3,107.7 258.0,108.0 258.6,107.2 259.3,103.6 259.9,108.3 260.6,102.9 261.3,104.2 261.9,100.4 262.6,101.8 263.2,102.4 263.9,99.5 264.5,97.6 265.2,97.9 265.9,96.0 266.5,96.9 267.2,98.9 267.8,92.0 268.5,91.4 269.2,91.4 269.8,90.5 270.5,87.6 271.1,89.4 271.8,88.9 272.4,86.8 273.1,83.1 273.8,87.7 274.4,82.3 275.1,85.4 275.7,85.8 276.4,80.9 277.0,83.1 277.7,85.0 278.4,82.7 279.0,79.8 279.7,78.9 280.3,81.6 281.0,79.6 281.7,76.2 282.3,75.3 283.0,69.9 283.6,67.1 284.3,64.5 284.9,63.5 285.6,63.5 286.3,63.5 286.9,63.5 287.6,63.5 288.2,63.5 288.9,63.5 289.6,63.5 290.2,63.5 290.9,63.5 291.5,63.5 292.2,63.5 292.8,63.5 293.5,63.5 294.2,63.5 294.8,63.5 295.5,63.5 296.1,63.5 296.8,63.5 297.4,63.5 298.1,63.5 298.8,64.9 299.4,65.6 300.1,66.9 300.7,70.0 301.4,69.6 302.1,77.7 302.7,72.8 303.4,76.8 304.0,73.8 304.7,76.8 305.3,78.9 306.0,77.2 306.7,80.5 307.3,81.2 308.0,83.3 308.6,81.1 309.3,80.8 309.9,80.7 310.6,83.9 311.3,82.5 311.9,85.4 312.6,86.5 313.2,86.1 313.9,86.1 314.6,89.7 315.2,90.4 315.9,91.2 316.5,91.6 317.2,94.4 317.8,91.6 318.5,95.3 319.2,94.6 319.8,98.1 320.5,96.9 321.1,97.9 321.8,100.5 322.5,96.9 323.1,101.1 323.8,99.5 324.4,102.1 325.1,106.3 325.7,106.8 326.4,106.3 327.1,108.1 327.7,109.2 328.4,110.9 329.0,115.2 329.7,114.4 330.3,120.4 331.0,117.7 331.7,122.0 332.3,124.2 333.0,125.5 333.6,126.8 334.3,132.3 335.0,135.1 335.6,136.0 336.3,140.0 336.9,139.5 337.6,136.2 338.2,143.0 338.9,141.3 339.6,146.8 340.2,145.2 340.9,148.1 341.5,149.2 342.2,149.6 342.8,149.0 343.5,153.6 344.2,155.4 344.8,159.1 345.5,157.7 346.1,160.7 346.8,159.3 347.5,161.6 348.1,158.8 348.8,166.7 349.4,164.1 350.1,162.5 350.7,165.5 351.4,167.0 352.1,166.6 352.7,169.4 353.4,167.2 354.0,163.3 354.7,166.5 355.4,171.5 356.0,171.7 356.7,171.4 357.3,169.4 358.0,173.5 358.6,173.5 359.3,170.7 360.0,171.0 360.6,173.7 361.3,175.4 361.9,176.5 362.6,175.1 363.2,178.3 363.9,172.8 364.6,175.7 365.2,173.8 365.9,171.4 366.5,172.9 367.2,177.7 367.9,174.0 368.5,173.7 369.2,177.7 369.8,178.3 370.5,176.9 371.1,180.1 371.8,174.4 372.5,182.1 373.1,179.9 373.8,178.5 374.4,178.7 375.1,178.2 375.7,178.2 376.4,179.4 377.1,177.0 377.7,183.6 378.4,179.6 379.0,181.2 379.7,179.7 380.4,179.7 381.0,182.1 381.7,181.7 382.3,179.2 383.0,180.2 383.6,182.3 384.3,177.3 385.0,176.9 385.6,184.4 386.3,181.2 386.9,177.1 387.6,180.5 388.2,181.6" fill="none" stroke="#8064a2" stroke-width="1.45" stroke-linejoin="round" />
<polyline points="207.3,179.8 208.0,180.1 208.6,179.2 209.3,179.5 209.9,176.7 210.6,178.5 211.2,178.3 211.9,179.4 212.6,176.9 213.2,178.2 213.9,176.4 214.5,173.8 215.2,174.7 215.9,174.1 216.5,174.1 217.2,174.3 217.8,174.3 218.5,174.4 219.1,172.0 219.8,175.2 220.5,170.2 221.1,172.4 221.8,173.6 222.4,172.7 223.1,172.8 223.8,170.8 224.4,172.2 225.1,168.2 225.7,171.6 226.4,174.2 227.0,170.9 227.7,173.0 228.4,168.2 229.0,165.1 229.7,164.9 230.3,167.7 231.0,165.6 231.6,159.7 232.3,161.6 233.0,161.2 233.6,158.1 234.3,154.4 234.9,155.7 235.6,156.9 236.3,155.5 236.9,154.0 237.6,155.3 238.2,155.1 238.9,151.9 239.5,152.7 240.2,149.9 240.9,148.5 241.5,143.1 242.2,148.2 242.8,145.7 243.5,144.7 244.1,141.0 244.8,136.8 245.5,136.7 246.1,134.3 246.8,132.9 247.4,128.5 248.1,122.6 248.8,122.5 249.4,123.5 250.1,121.2 250.7,119.4 251.4,117.4 252.0,118.5 252.7,116.8 253.4,118.7 254.0,116.4 254.7,110.0 255.3,116.3 256.0,111.7 256.7,109.5 257.3,109.6 258.0,109.4 258.6,106.9 259.3,105.8 259.9,104.9 260.6,107.4 261.3,103.1 261.9,103.4 262.6,101.9 263.2,99.4 263.9,97.6 264.5,96.1 265.2,97.8 265.9,94.1 266.5,92.6 267.2,91.7 267.8,90.2 268.5,92.2 269.2,91.3 269.8,88.4 270.5,91.6 271.1,87.6 271.8,88.0 272.4,86.7 273.1,88.4 273.8,86.2 274.4,84.1 275.1,81.8 275.7,81.1 276.4,82.7 277.0,82.4 277.7,83.2 278.4,80.3 279.0,81.0 279.7,78.9 280.3,76.2 281.0,79.1 281.7,79.4 282.3,74.9 283.0,72.8 283.6,69.1 284.3,63.5 284.9,63.5 285.6,63.5 286.3,63.5 286.9,63.5 287.6,63.5 288.2,63.5 288.9,63.5 289.6,63.5 290.2,63.5 290.9,63.5 291.5,63.5 292.2,63.5 292.8,63.5 293.5,63.5 294.2,63.5 294.8,63.5 295.5,63.5 296.1,63.5 296.8,63.5 297.4,63.5 298.1,65.3 298.8,63.5 299.4,68.6 300.1,73.1 300.7,75.3 301.4,77.1 302.1,78.8 302.7,84.5 303.4,81.3 304.0,81.2 304.7,82.6 305.3,80.6 306.0,79.0 306.7,82.5 307.3,84.1 308.0,78.3 308.6,83.4 309.3,85.2 309.9,83.1 310.6,83.5 311.3,86.5 311.9,84.4 312.6,87.6 313.2,89.2 313.9,87.9 314.6,87.5 315.2,91.0 315.9,89.9 316.5,91.5 317.2,86.6 317.8,94.2 318.5,91.0 319.2,94.5 319.8,95.7 320.5,95.1 321.1,95.8 321.8,96.1 322.5,98.9 323.1,101.8 323.8,102.7 324.4,101.7 325.1,102.6 325.7,102.0 326.4,104.9 327.1,104.7 327.7,104.9 328.4,108.5 329.0,112.7 329.7,114.0 330.3,116.4 331.0,112.4 331.7,118.9 332.3,116.8 333.0,119.9 333.6,119.5 334.3,122.8 335.0,126.8 335.6,128.8 336.3,130.1 336.9,131.8 337.6,134.9 338.2,135.4 338.9,133.8 339.6,141.8 340.2,139.6 340.9,143.4 341.5,142.8 342.2,143.1 342.8,146.4 343.5,146.3 344.2,152.5 344.8,148.8 345.5,153.7 346.1,152.6 346.8,154.0 347.5,160.0 348.1,157.0 348.8,155.7 349.4,153.7 350.1,156.8 350.7,157.4 351.4,161.2 352.1,156.3 352.7,156.2 353.4,160.2 354.0,161.3 354.7,164.5 355.4,160.3 356.0,157.4 356.7,161.8 357.3,161.3 358.0,163.3 358.6,166.8 359.3,162.9 360.0,168.5 360.6,167.1 361.3,166.7 361.9,166.0 362.6,167.4 363.2,168.0 363.9,170.8 364.6,172.3 365.2,170.2 365.9,172.2 366.5,173.9 367.2,174.3 367.9,173.4 368.5,176.5 369.2,176.1 369.8,177.1 370.5,174.2 371.1,174.2 371.8,171.7 372.5,178.7 373.1,177.3 373.8,174.4 374.4,176.8 375.1,177.2 375.7,173.5 376.4,177.7 377.1,179.4 377.7,180.0 378.4,177.0 379.0,177.2 379.7,180.7 380.4,180.1 381.0,177.4 381.7,177.5 382.3,180.1 383.0,177.9 383.6,178.2 384.3,182.9 385.0,180.3 385.6,179.1 386.3,181.2 386.9,184.4 387.6,181.0 388.2,179.3" fill="none" stroke="#4bacc6" stroke-width="1.45" stroke-linejoin="round" />
<polyline points="207.3,173.8 208.0,180.5 208.6,170.7 209.3,177.3 209.9,172.7 210.6,171.6 211.2,171.6 211.9,172.6 212.6,174.6 213.2,170.6 213.9,172.6 214.5,175.5 215.2,164.6 215.9,168.2 216.5,165.5 217.2,170.5 217.8,165.6 218.5,165.1 219.1,164.8 219.8,167.6 220.5,169.6 221.1,167.3 221.8,170.9 222.4,169.6 223.1,165.9 223.8,167.7 224.4,165.8 225.1,165.4 225.7,161.1 226.4,162.1 227.0,164.3 227.7,161.6 228.4,164.2 229.0,162.1 229.7,158.4 230.3,161.3 231.0,158.2 231.6,159.0 232.3,154.9 233.0,150.8 233.6,154.1 234.3,151.0 234.9,151.8 235.6,150.9 236.3,149.8 236.9,143.2 237.6,140.1 238.2,142.4 238.9,143.4 239.5,139.3 240.2,139.9 240.9,136.4 241.5,135.8 242.2,133.4 242.8,130.4 243.5,130.3 244.1,127.5 244.8,127.7 245.5,122.8 246.1,122.7 246.8,119.5 247.4,120.4 248.1,117.6 248.8,116.2 249.4,119.1 250.1,117.1 250.7,116.4 251.4,111.3 252.0,107.6 252.7,107.5 253.4,108.0 254.0,102.6 254.7,106.6 255.3,98.9 256.0,101.3 256.7,103.5 257.3,91.2 258.0,92.9 258.6,97.5 259.3,94.8 259.9,95.1 260.6,94.0 261.3,96.7 261.9,94.7 262.6,92.1 263.2,92.1 263.9,89.8 264.5,91.6 265.2,86.7 265.9,92.2 266.5,89.8 267.2,93.2 267.8,91.0 268.5,85.1 269.2,88.6 269.8,84.9 270.5,85.2 271.1,86.2 271.8,84.0 272.4,83.4 273.1,82.5 273.8,79.7 274.4,79.5 275.1,81.5 275.7,81.8 276.4,79.1 277.0,79.5 277.7,77.0 278.4,73.5 279.0,76.6 279.7,77.9 280.3,77.8 281.0,78.8 281.7,76.6 282.3,74.0 283.0,70.0 283.6,67.2 284.3,63.5 284.9,63.5 285.6,63.5 286.3,63.5 286.9,63.5 287.6,63.5 288.2,63.5 288.9,63.5 289.6,63.5 290.2,63.5 290.9,63.5 291.5,63.5 292.2,63.5 292.8,63.5 293.5,63.5 294.2,63.5 294.8,63.5 295.5,63.5 296.1,63.5 296.8,63.5 297.4,63.5 298.1,64.8 298.8,67.0 299.4,69.1 300.1,71.5 300.7,74.0 301.4,79.4 302.1,73.1 302.7,75.1 303.4,76.4 304.0,78.9 304.7,78.8 305.3,78.0 306.0,78.7 306.7,83.2 307.3,78.8 308.0,74.9 308.6,84.8 309.3,79.6 309.9,81.6 310.6,83.3 311.3,81.1 311.9,87.0 312.6,85.1 313.2,83.3 313.9,87.3 314.6,88.5 315.2,88.3 315.9,90.1 316.5,87.0 317.2,92.6 317.8,89.8 318.5,94.8 319.2,91.8 319.8,94.3 320.5,100.1 321.1,96.0 321.8,99.0 322.5,98.7 323.1,95.7 323.8,102.0 324.4,102.8 325.1,98.8 325.7,102.3 326.4,100.5 327.1,103.8 327.7,107.2 328.4,106.5 329.0,104.8 329.7,107.1 330.3,110.6 331.0,112.1 331.7,114.1 332.3,116.7 333.0,113.3 333.6,118.8 334.3,122.7 335.0,123.1 335.6,122.3 336.3,124.2 336.9,127.3 337.6,130.1 338.2,130.3 338.9,135.4 339.6,136.3 340.2,133.7 340.9,137.9 341.5,137.9 342.2,137.9 342.8,140.7 343.5,143.6 344.2,141.0 344.8,145.6 345.5,149.3 346.1,148.5 346.8,149.8 347.5,152.9 348.1,151.7 348.8,152.9 349.4,157.1 350.1,154.2 350.7,155.0 351.4,156.0 352.1,159.0 352.7,157.1 353.4,157.1 354.0,157.5 354.7,160.6 355.4,157.7 356.0,162.0 356.7,160.7 357.3,158.3 358.0,162.9 358.6,163.2 359.3,160.7 360.0,164.2 360.6,164.7 361.3,164.2 361.9,163.1 362.6,170.0 363.2,167.8 363.9,168.7 364.6,169.4 365.2,169.4 365.9,169.9 366.5,168.2 367.2,171.1 367.9,169.6 368.5,169.6 369.2,172.3 369.8,171.2 370.5,168.7 371.1,171.8 371.8,174.2 372.5,173.3 373.1,175.2 373.8,173.1 374.4,172.1 375.1,175.6 375.7,174.6 376.4,172.2 377.1,175.6 377.7,174.5 378.4,177.1 379.0,176.9 379.7,176.5 380.4,171.5 381.0,176.7 381.7,177.1 382.3,177.4 383.0,176.8 383.6,175.4 384.3,176.5 385.0,173.1 385.6,176.9 386.3,174.7 386.9,177.2 387.6,176.8 388.2,180.9" fill="none" stroke="#f79646" stroke-width="1.45" stroke-linejoin="round" />
<line x1="281.7" y1="52.5" x2="281.7" y2="202" stroke="#000" stroke-width="1" stroke-dasharray="3,1.6"/>
<line x1="300.7" y1="50.0" x2="300.7" y2="202" stroke="#000" stroke-width="1" stroke-dasharray="3,1.6"/>
<rect x="331" y="34.1" width="28" height="4" fill="#fff"/>
<line x1="331.8" y1="36.9" x2="357.6" y2="36.9" stroke="#4f81bd" stroke-width="1.6"/>
<text x="360.4" y="36.3" font-size="11.8" text-anchor="start" font-family='"Liberation Sans", sans-serif' fill="#000" >15 s</text>
<rect x="331" y="48.400000000000006" width="28" height="4" fill="#fff"/>
<line x1="331.8" y1="51.2" x2="357.6" y2="51.2" stroke="#c0504d" stroke-width="1.6"/>
<text x="360.4" y="50.6" font-size="11.8" text-anchor="start" font-family='"Liberation Sans", sans-serif' fill="#000" >1 min</text>
<rect x="331" y="62.7" width="28" height="4" fill="#fff"/>
<line x1="331.8" y1="65.5" x2="357.6" y2="65.5" stroke="#9bbb59" stroke-width="1.6"/>
<text x="360.4" y="64.9" font-size="11.8" text-anchor="start" font-family='"Liberation Sans", sans-serif' fill="#000" >3 min</text>
<rect x="331" y="77.0" width="28" height="4" fill="#fff"/>
<line x1="331.8" y1="79.8" x2="357.6" y2="79.8" stroke="#8064a2" stroke-width="1.6"/>
<text x="360.4" y="79.2" font-size="11.8" text-anchor="start" font-family='"Liberation Sans", sans-serif' fill="#000" >10 min</text>
<rect x="331" y="91.3" width="28" height="4" fill="#fff"/>
<line x1="331.8" y1="94.1" x2="357.6" y2="94.1" stroke="#4bacc6" stroke-width="1.6"/>
<text x="360.4" y="93.5" font-size="11.8" text-anchor="start" font-family='"Liberation Sans", sans-serif' fill="#000" >20 min</text>
<rect x="331" y="105.60000000000001" width="28" height="4" fill="#fff"/>
<line x1="331.8" y1="108.4" x2="357.6" y2="108.4" stroke="#f79646" stroke-width="1.6"/>
<text x="360.4" y="107.8" font-size="11.8" text-anchor="start" font-family='"Liberation Sans", sans-serif' fill="#000" >30 min</text>
<line x1="465.6" y1="71.19999999999999" x2="465.6" y2="187.6" stroke="#868686" stroke-width="1"/>
<line x1="465.6" y1="187.6" x2="679.35" y2="187.6" stroke="#868686" stroke-width="1"/>
<line x1="461.6" y1="187.6" x2="465.6" y2="187.6" stroke="#868686" stroke-width="1"/>
<text x="452.6" y="191.9" font-size="11" text-anchor="end" font-family='"Liberation Sans", sans-serif' fill="#000" >0</text>
<line x1="461.6" y1="164.3" x2="465.6" y2="164.3" stroke="#868686" stroke-width="1"/>
<text x="452.6" y="168.6" font-size="11" text-anchor="end" font-family='"Liberation Sans", sans-serif' fill="#000" >0.2</text>
<line x1="461.6" y1="141.0" x2="465.6" y2="141.0" stroke="#868686" stroke-width="1"/>
<text x="452.6" y="145.3" font-size="11" text-anchor="end" font-family='"Liberation Sans", sans-serif' fill="#000" >0.4</text>
<line x1="461.6" y1="117.8" x2="465.6" y2="117.8" stroke="#868686" stroke-width="1"/>
<text x="452.6" y="122.1" font-size="11" text-anchor="end" font-family='"Liberation Sans", sans-serif' fill="#000" >0.6</text>
<line x1="461.6" y1="94.5" x2="465.6" y2="94.5" stroke="#868686" stroke-width="1"/>
<text x="452.6" y="98.8" font-size="11" text-anchor="end" font-family='"Liberation Sans", sans-serif' fill="#000" >0.8</text>
<line x1="461.6" y1="71.2" x2="465.6" y2="71.2" stroke="#868686" stroke-width="1"/>
<text x="452.6" y="75.5" font-size="11" text-anchor="end" font-family='"Liberation Sans", sans-serif' fill="#000" >1</text>
<line x1="465.6" y1="187.6" x2="465.6" y2="191.6" stroke="#868686" stroke-width="1"/>
<text x="465.6" y="209.2" font-size="11" text-anchor="middle" font-family='"Liberation Sans", sans-serif' fill="#000" >0</text>
<line x1="494.1" y1="187.6" x2="494.1" y2="191.6" stroke="#868686" stroke-width="1"/>
<text x="494.1" y="209.2" font-size="11" text-anchor="middle" font-family='"Liberation Sans", sans-serif' fill="#000" >200</text>
<line x1="522.6" y1="187.6" x2="522.6" y2="191.6" stroke="#868686" stroke-width="1"/>
<text x="522.6" y="209.2" font-size="11" text-anchor="middle" font-family='"Liberation Sans", sans-serif' fill="#000" >400</text>
<line x1="551.1" y1="187.6" x2="551.1" y2="191.6" stroke="#868686" stroke-width="1"/>
<text x="551.1" y="209.2" font-size="11" text-anchor="middle" font-family='"Liberation Sans", sans-serif' fill="#000" >600</text>
<line x1="579.6" y1="187.6" x2="579.6" y2="191.6" stroke="#868686" stroke-width="1"/>
<text x="579.6" y="209.2" font-size="11" text-anchor="middle" font-family='"Liberation Sans", sans-serif' fill="#000" >800</text>
<line x1="608.1" y1="187.6" x2="608.1" y2="191.6" stroke="#868686" stroke-width="1"/>
<text x="608.1" y="209.2" font-size="11" text-anchor="middle" font-family='"Liberation Sans", sans-serif' fill="#000" >1000</text>
<line x1="636.6" y1="187.6" x2="636.6" y2="191.6" stroke="#868686" stroke-width="1"/>
<text x="636.6" y="209.2" font-size="11" text-anchor="middle" font-family='"Liberation Sans", sans-serif' fill="#000" >1200</text>
<line x1="665.1" y1="187.6" x2="665.1" y2="191.6" stroke="#868686" stroke-width="1"/>
<text x="665.1" y="209.2" font-size="11" text-anchor="middle" font-family='"Liberation Sans", sans-serif' fill="#000" >1400</text>
<text x="469.9" y="232.2" font-size="14" text-anchor="start" font-family='"Liberation Sans", sans-serif' fill="#000" textLength="213.5" lengthAdjust="spacingAndGlyphs">Distance from microchannel (µm)</text>
<text x="0" y="0" font-size="14" text-anchor="middle" font-family='"Liberation Sans", sans-serif' fill="#000" transform="translate(426,126) rotate(-90)" textLength="132" lengthAdjust="spacingAndGlyphs">Normalized Intensity</text>
<polyline points="465.6,76.1 466.0,76.4 466.3,77.2 466.7,81.2 467.0,76.0 467.4,78.8 467.7,79.3 468.1,79.4 468.5,79.8 468.8,78.7 469.2,82.0 469.5,81.5 469.9,79.4 470.2,79.8 470.6,80.9 470.9,81.4 471.3,82.1 471.7,80.8 472.0,78.7 472.4,83.0 472.7,78.4 473.1,79.8 473.4,82.4 473.8,79.6 474.2,82.7 474.5,82.1 474.9,80.1 475.2,77.4 475.6,76.2 475.9,75.8 476.3,75.2 476.6,79.9 477.0,75.5 477.4,79.6 477.7,78.8 478.1,78.8 478.4,80.5 478.8,81.1 479.1,80.6 479.5,78.9 479.9,78.0 480.2,78.2 480.6,81.3 480.9,81.1 481.3,81.5 481.6,79.1 482.0,83.9 482.3,78.0 482.7,81.4 483.1,80.9 483.4,77.8 483.8,75.5 484.1,75.8 484.5,73.4 484.8,74.1 485.2,71.3 485.6,71.3 485.9,73.9 486.3,71.1 486.6,73.6 487.0,73.8 487.3,75.8 487.7,74.7 488.0,72.8 488.4,76.8 488.8,73.2 489.1,73.9 489.5,74.1 489.8,79.4 490.2,76.9 490.5,77.0 490.9,81.1 491.2,80.9 491.6,87.0 492.0,82.8 492.3,85.0 492.7,81.8 493.0,86.6 493.4,81.6 493.7,83.1 494.1,80.9 494.5,83.8 494.8,83.0 495.2,77.4 495.5,82.8 495.9,82.3 496.2,81.2 496.6,82.5 497.0,78.9 497.3,78.4 497.7,83.4 498.0,85.8 498.4,80.9 498.7,81.5 499.1,82.5 499.4,82.3 499.8,86.6 500.2,85.8 500.5,88.7 500.9,89.4 501.2,85.5 501.6,89.2 501.9,84.3 502.3,89.0 502.7,91.0 503.0,88.9 503.4,87.6 503.7,89.8 504.1,92.7 504.4,89.5 504.8,87.4 505.1,90.6 505.5,90.8 505.9,87.2 506.2,88.6 506.6,90.7 506.9,89.0 507.3,89.5 507.6,87.3 508.0,87.3 508.4,86.1 508.7,87.8 509.1,93.0 509.4,90.2 509.8,90.2 510.1,91.9 510.5,91.8 510.8,95.6 511.2,97.3 511.6,94.7 511.9,99.3 512.3,102.2 512.6,97.2 513.0,99.9 513.3,98.5 513.7,99.9 514.1,99.2 514.4,98.3 514.8,96.2 515.1,94.2 515.5,98.6 515.8,92.3 516.2,95.0 516.5,93.5 516.9,89.0 517.3,89.1 517.6,90.6 518.0,83.0 518.3,86.8 518.7,86.2 519.0,87.7 519.4,86.9 519.8,91.8 520.1,90.6 520.5,95.3 520.8,92.9 521.2,97.3 521.5,97.4 521.9,94.0 522.2,97.8 522.6,99.0 523.0,95.9 523.3,100.3 523.7,103.3 524.0,101.3 524.4,105.7 524.7,102.3 525.1,103.0 525.5,107.2 525.8,108.2 526.2,107.6 526.5,108.8 526.9,111.5 527.2,109.5 527.6,115.2 527.9,113.1 528.3,114.0 528.7,114.6 529.0,113.1 529.4,115.2 529.7,111.1 530.1,111.8 530.4,112.0 530.8,112.6 531.1,111.5 531.5,107.9 531.9,109.7 532.2,107.0 532.6,104.5 532.9,103.8 533.3,102.2 533.6,104.9 534.0,105.7 534.4,101.1 534.7,101.7 535.1,99.5 535.4,102.4 535.8,101.4 536.1,103.3 536.5,104.8 536.9,106.4 537.2,107.8 537.6,109.4 537.9,110.4 538.3,109.2 538.6,112.2 539.0,108.2 539.3,111.9 539.7,110.1 540.1,112.3 540.4,112.8 540.8,108.8 541.1,113.4 541.5,115.4 541.8,114.6 542.2,114.0 542.5,109.6 542.9,113.5 543.3,112.4 543.6,116.2 544.0,113.9 544.3,113.6 544.7,111.7 545.0,116.6 545.4,114.4 545.8,115.2 546.1,117.9 546.5,116.3 546.8,117.0 547.2,121.0 547.5,115.8 547.9,116.0 548.2,118.0 548.6,119.9 549.0,114.8 549.3,117.3 549.7,116.0 550.0,115.5 550.4,119.3 550.7,117.0 551.1,119.1 551.5,118.9 551.8,119.5 552.2,120.5 552.5,119.5 552.9,122.4 553.2,124.0 553.6,125.3 554.0,125.3 554.3,128.1 554.7,127.9 555.0,127.6 555.4,129.1 555.7,128.9 556.1,130.3 556.4,126.0 556.8,127.8 557.2,130.0 557.5,131.5 557.9,127.8 558.2,131.9 558.6,133.1 558.9,132.9 559.3,133.3 559.6,131.7 560.0,134.8 560.4,131.3 560.7,137.4 561.1,134.9 561.4,138.5 561.8,133.7 562.1,138.1 562.5,138.1 562.9,136.7 563.2,136.5 563.6,141.2 563.9,140.0 564.3,142.2 564.6,139.7 565.0,140.4 565.4,141.1 565.7,142.0 566.1,141.7 566.4,142.7 566.8,140.6 567.1,139.0 567.5,145.7 567.8,142.6 568.2,143.5 568.6,142.1 568.9,145.1 569.3,143.9 569.6,145.9 570.0,142.9 570.3,144.4 570.7,145.2 571.0,144.5 571.4,145.9 571.8,148.7 572.1,145.0 572.5,145.8 572.8,146.9 573.2,145.0 573.5,144.8 573.9,149.3 574.3,149.0 574.6,144.9 575.0,145.3 575.3,149.6 575.7,150.6 576.0,149.8 576.4,149.8 576.8,152.0 577.1,149.4 577.5,152.4 577.8,152.7 578.2,149.3 578.5,152.8 578.9,152.1 579.2,151.3 579.6,151.5 580.0,154.1 580.3,153.9 580.7,156.0 581.0,151.8 581.4,154.0 581.7,157.4 582.1,155.5 582.5,154.4 582.8,155.0 583.2,152.6 583.5,153.7 583.9,158.0 584.2,157.8 584.6,160.7 584.9,158.5 585.3,159.3 585.7,155.2 586.0,160.7 586.4,165.5 586.7,163.5 587.1,162.7 587.4,165.9 587.8,165.8 588.1,165.3 588.5,164.3 588.9,165.6 589.2,167.3 589.6,164.5 589.9,167.3 590.3,167.6 590.6,169.6 591.0,168.8 591.4,166.5 591.7,171.1 592.1,168.5 592.4,167.4 592.8,169.8 593.1,169.0 593.5,171.9 593.9,167.7 594.2,168.3 594.6,170.1 594.9,174.1 595.3,173.0 595.6,169.4 596.0,168.3 596.3,171.2 596.7,169.6 597.1,173.3 597.4,172.7 597.8,172.6 598.1,172.0 598.5,175.9 598.8,171.5 599.2,171.0 599.5,175.8 599.9,176.4 600.3,173.4 600.6,175.4 601.0,178.7 601.3,173.0 601.7,174.4 602.0,175.7 602.4,171.0 602.8,174.9 603.1,176.7 603.5,175.3 603.8,177.5 604.2,177.2 604.5,175.2 604.9,177.1 605.2,177.1 605.6,173.3 606.0,175.0 606.3,175.2 606.7,175.9 607.0,176.1 607.4,174.5 607.7,177.4 608.1,174.1 608.5,179.4 608.8,178.4 609.2,180.8 609.5,179.1 609.9,177.8 610.2,176.3 610.6,180.5 611.0,179.5 611.3,180.5 611.7,181.5 612.0,182.6 612.4,180.5 612.7,184.0 613.1,180.6 613.4,180.7 613.8,181.6 614.2,180.6 614.5,180.0 614.9,176.2 615.2,179.0 615.6,176.8 615.9,178.8 616.3,180.9 616.6,182.6 617.0,181.0 617.4,180.6 617.7,183.2 618.1,182.6 618.4,181.4 618.8,182.0 619.1,180.5 619.5,182.9 619.9,181.9 620.2,183.5 620.6,180.4 620.9,183.0 621.3,184.4 621.6,182.5 622.0,182.5 622.4,180.6 622.7,182.6 623.1,182.2 623.4,181.4 623.8,179.8 624.1,180.2 624.5,177.8 624.8,177.1 625.2,177.4 625.6,177.5 625.9,178.8 626.3,181.0 626.6,180.1 627.0,183.2 627.3,181.1 627.7,181.4 628.0,182.4 628.4,183.1 628.8,182.6 629.1,181.9 629.5,181.7 629.8,182.1 630.2,181.4 630.5,182.9 630.9,182.1 631.3,183.8 631.6,181.5 632.0,181.8 632.3,181.8 632.7,179.3 633.0,178.6 633.4,180.8 633.8,177.7 634.1,179.5 634.5,178.2 634.8,178.1 635.2,181.9 635.5,181.9 635.9,182.5 636.2,182.0 636.6,181.8 637.0,181.2 637.3,183.3 637.7,180.9 638.0,183.2 638.4,182.1 638.7,181.3 639.1,181.7 639.5,183.2 639.8,183.0 640.2,182.8 640.5,182.4 640.9,181.3 641.2,183.6 641.6,181.9 641.9,181.8 642.3,181.8 642.7,181.9 643.0,180.9 643.4,181.9 643.7,181.6 644.1,181.8 644.4,180.7 644.8,184.1 645.1,181.2 645.5,182.6 645.9,182.6 646.2,183.3 646.6,184.1 646.9,182.7 647.3,183.0 647.6,181.9 648.0,183.7 648.4,181.0 648.7,182.0 649.1,182.3 649.4,182.3 649.8,181.6 650.1,181.1 650.5,179.7 650.9,178.9 651.2,179.4 651.6,181.3 651.9,181.2 652.3,182.5 652.6,181.9 653.0,180.5 653.3,181.8 653.7,182.6 654.1,183.9 654.4,183.7 654.8,183.9 655.1,181.7 655.5,183.1 655.8,182.3 656.2,182.9 656.5,182.3 656.9,181.1 657.3,183.0 657.6,182.7 658.0,183.1 658.3,181.5 658.7,183.3 659.0,183.4 659.4,183.7 659.8,183.7 660.1,181.9 660.5,180.0 660.8,183.3 661.2,181.5 661.5,182.1 661.9,183.4 662.2,182.6 662.6,182.5 663.0,182.8 663.3,180.0 663.7,182.8 664.0,179.3 664.4,177.7 664.7,177.1 665.1,175.8 665.5,175.7 665.8,177.9 666.2,179.3 666.5,180.4 666.9,183.7 667.2,180.8 667.6,180.2 668.0,181.4 668.3,181.4 668.7,183.7 669.0,182.5 669.4,183.1 669.7,182.9 670.1,181.5 670.4,183.1 670.8,182.5 671.2,184.1 671.5,182.5 671.9,182.3 672.2,183.0 672.6,183.0 672.9,180.6 673.3,183.5 673.6,183.3 674.0,183.1 674.4,181.2 674.7,180.4 675.1,182.1 675.4,183.0 675.8,182.8 676.1,181.4 676.5,183.2 676.9,181.0 677.2,181.0 677.6,182.3 677.9,181.8 678.3,181.7 678.6,180.9 679.0,183.3 679.4,181.3" fill="none" stroke="#4a7ebf" stroke-width="3.0" stroke-linejoin="round" />
<polyline points="465.6,71.5 466.0,74.7 466.3,76.9 466.7,80.1 467.0,83.6 467.4,85.6 467.7,86.5 468.1,85.2 468.5,84.9 468.8,86.1 469.2,85.8 469.5,87.3 469.9,87.1 470.2,86.9 470.6,88.1 470.9,88.2 471.3,87.4 471.7,87.9 472.0,88.7 472.4,87.6 472.7,88.3 473.1,87.4 473.4,88.4 473.8,88.8 474.2,88.6 474.5,88.9 474.9,89.5 475.2,89.4 475.6,88.6 475.9,88.9 476.3,88.5 476.6,91.1 477.0,90.1 477.4,90.6 477.7,90.5 478.1,91.4 478.4,91.9 478.8,91.2 479.1,92.1 479.5,93.6 479.9,92.0 480.2,92.7 480.6,94.4 480.9,93.6 481.3,95.3 481.6,94.2 482.0,95.7 482.3,96.6 482.7,96.6 483.1,97.4 483.4,97.0 483.8,97.4 484.1,97.9 484.5,98.8 484.8,101.7 485.2,99.0 485.6,101.0 485.9,99.6 486.3,99.2 486.6,100.3 487.0,101.2 487.3,101.4 487.7,101.7 488.0,102.4 488.4,102.8 488.8,103.5 489.1,102.1 489.5,103.4 489.8,103.0 490.2,104.9 490.5,105.5 490.9,106.5 491.2,106.9 491.6,107.5 492.0,108.8 492.3,110.5 492.7,111.4 493.0,110.3 493.4,112.8 493.7,113.6 494.1,113.1 494.5,114.3 494.8,115.6 495.2,117.2 495.5,115.8 495.9,118.3 496.2,119.1 496.6,120.5 497.0,122.4 497.3,123.2 497.7,122.7 498.0,123.6 498.4,124.9 498.7,126.6 499.1,127.7 499.4,127.6 499.8,129.4 500.2,128.4 500.5,129.0 500.9,128.5 501.2,131.0 501.6,133.1 501.9,134.2 502.3,137.2 502.7,135.7 503.0,136.2 503.4,136.2 503.7,137.3 504.1,138.2 504.4,139.4 504.8,139.9 505.1,140.2 505.5,143.1 505.9,143.4 506.2,145.1 506.6,143.5 506.9,144.6 507.3,145.7 507.6,147.8 508.0,147.3 508.4,148.2 508.7,148.5 509.1,149.3 509.4,149.3 509.8,150.7 510.1,150.2 510.5,151.3 510.8,152.3 511.2,152.8 511.6,153.6 511.9,153.2 512.3,154.6 512.6,154.8 513.0,155.8 513.3,157.1 513.7,155.6 514.1,157.6 514.4,156.6 514.8,157.3 515.1,159.4 515.5,159.3 515.8,159.4 516.2,160.0 516.5,160.8 516.9,159.6 517.3,160.9 517.6,160.8 518.0,161.9 518.3,161.7 518.7,162.8 519.0,162.5 519.4,162.2 519.8,162.9 520.1,163.5 520.5,164.3 520.8,163.5 521.2,163.6 521.5,164.3 521.9,164.9 522.2,164.1 522.6,162.8 523.0,165.3 523.3,165.0 523.7,165.2 524.0,167.8 524.4,165.8 524.7,166.8 525.1,165.3 525.5,166.9 525.8,167.5 526.2,167.3 526.5,167.2 526.9,168.1 527.2,167.9 527.6,169.2 527.9,168.5 528.3,168.0 528.7,167.2 529.0,168.5 529.4,169.1 529.7,168.6 530.1,169.0 530.4,168.7 530.8,169.4 531.1,170.6 531.5,170.6 531.9,170.9 532.2,171.0 532.6,171.3 532.9,172.4 533.3,173.7 533.6,172.8 534.0,174.1 534.4,172.6 534.7,172.8 535.1,174.4 535.4,172.6 535.8,172.7 536.1,173.5 536.5,172.4 536.9,172.4 537.2,175.1 537.6,173.4 537.9,174.1 538.3,174.3 538.6,174.1 539.0,175.6 539.3,175.7 539.7,176.1 540.1,176.2 540.4,175.8 540.8,177.1 541.1,177.0 541.5,175.8 541.8,176.5 542.2,176.3 542.5,178.4 542.9,177.7 543.3,177.6 543.6,177.4 544.0,178.0 544.3,177.0 544.7,178.0 545.0,178.1 545.4,178.3 545.8,177.8 546.1,178.9 546.5,177.7 546.8,178.3 547.2,178.6 547.5,178.8 547.9,178.5 548.2,178.2 548.6,178.4 549.0,179.0 549.3,178.6 549.7,179.4 550.0,178.5 550.4,179.7 550.7,181.4 551.1,178.7 551.5,179.8 551.8,181.0 552.2,180.3 552.5,180.9 552.9,178.6 553.2,180.0 553.6,181.8 554.0,180.2 554.3,181.0 554.7,179.2 555.0,181.8 555.4,182.8 555.7,181.0 556.1,181.5 556.4,181.6 556.8,183.1 557.2,181.1 557.5,180.2 557.9,183.2 558.2,180.8 558.6,182.2 558.9,179.9 559.3,181.4 559.6,181.9 560.0,180.9 560.4,181.4 560.7,182.3 561.1,181.2 561.4,182.2 561.8,183.2 562.1,180.1 562.5,182.1 562.9,182.3 563.2,181.5 563.6,183.1 563.9,182.9 564.3,182.2 564.6,182.2 565.0,181.7 565.4,180.9 565.7,182.2 566.1,181.4 566.4,181.3 566.8,182.7 567.1,181.6 567.5,182.5 567.8,180.9 568.2,181.4 568.6,181.8 568.9,182.9 569.3,181.7 569.6,182.4 570.0,181.2 570.3,181.9 570.7,182.4 571.0,181.0 571.4,181.2 571.8,182.3 572.1,180.8 572.5,182.0 572.8,182.0 573.2,181.7 573.5,182.4 573.9,182.1 574.3,181.9 574.6,180.5 575.0,180.6 575.3,182.0 575.7,180.5 576.0,181.8 576.4,181.5 576.8,181.1 577.1,181.5 577.5,179.8 577.8,181.6 578.2,182.8 578.5,180.7 578.9,182.1 579.2,182.0 579.6,184.2 580.0,181.0 580.3,181.1 580.7,181.1 581.0,181.0 581.4,180.4 581.7,181.8 582.1,181.0 582.5,182.4 582.8,182.1 583.2,180.9 583.5,181.5 583.9,182.9 584.2,181.5 584.6,181.9 584.9,182.4 585.3,181.4 585.7,182.1 586.0,183.1 586.4,182.7 586.7,180.3 587.1,183.0 587.4,181.6 587.8,181.3 588.1,181.3 588.5,182.8 588.9,182.0 589.2,181.7 589.6,181.1 589.9,182.3 590.3,182.7 590.6,181.0 591.0,180.9 591.4,181.5 591.7,182.3 592.1,181.4 592.4,181.7 592.8,181.1 593.1,182.8 593.5,181.7 593.9,181.9 594.2,182.7 594.6,181.6 594.9,181.8 595.3,182.1 595.6,181.5 596.0,182.9 596.3,181.8 596.7,181.4 597.1,181.5 597.4,180.9 597.8,182.8 598.1,183.0 598.5,181.6 598.8,181.4 599.2,180.1 599.5,181.3 599.9,182.5 600.3,181.1 600.6,182.5 601.0,183.0 601.3,179.7 601.7,181.5 602.0,181.2 602.4,181.3 602.8,180.3 603.1,181.5 603.5,180.8 603.8,182.6 604.2,182.9 604.5,180.6 604.9,180.6 605.2,181.4 605.6,181.6 606.0,181.6 606.3,182.3 606.7,180.5 607.0,181.2 607.4,181.4 607.7,181.5 608.1,180.9 608.5,181.4 608.8,181.2 609.2,182.7 609.5,181.4 609.9,180.0 610.2,182.2 610.6,181.9 611.0,181.1 611.3,181.0 611.7,181.3 612.0,183.1 612.4,181.4 612.7,182.7 613.1,182.5 613.4,181.3 613.8,182.0 614.2,181.1 614.5,179.2 614.9,181.1 615.2,181.2 615.6,182.5 615.9,182.3 616.3,182.6 616.6,182.2 617.0,182.7 617.4,182.3 617.7,182.0 618.1,182.6 618.4,182.9 618.8,182.9 619.1,181.4 619.5,181.7 619.9,180.9 620.2,180.9 620.6,182.1 620.9,181.2 621.3,183.0 621.6,179.9 622.0,180.8 622.4,182.0 622.7,182.7 623.1,181.5 623.4,183.3 623.8,182.4 624.1,181.2 624.5,181.7 624.8,182.2 625.2,181.0 625.6,182.6 625.9,181.5 626.3,182.2 626.6,182.5 627.0,181.4 627.3,182.6 627.7,180.2 628.0,182.3 628.4,180.2 628.8,182.7 629.1,181.3 629.5,182.8 629.8,182.9 630.2,181.6 630.5,181.2 630.9,182.8 631.3,180.8 631.6,182.4 632.0,181.7 632.3,181.5 632.7,181.3 633.0,183.2 633.4,180.5 633.8,181.3 634.1,182.1 634.5,182.6 634.8,183.2 635.2,182.9 635.5,181.3 635.9,182.1 636.2,182.7 636.6,182.2 637.0,180.5 637.3,182.0 637.7,182.3 638.0,180.7 638.4,181.4 638.7,181.7 639.1,182.3 639.5,183.0 639.8,182.7 640.2,182.2 640.5,182.0 640.9,181.5 641.2,181.3 641.6,181.6 641.9,181.6 642.3,182.6 642.7,183.5 643.0,182.2 643.4,182.6 643.7,182.3 644.1,182.0 644.4,182.8 644.8,182.7 645.1,181.9 645.5,181.7 645.9,182.3 646.2,181.4 646.6,182.0 646.9,182.6 647.3,181.7 647.6,180.2 648.0,182.3 648.4,180.8 648.7,180.7 649.1,180.6 649.4,182.5 649.8,180.1 650.1,181.7 650.5,182.0 650.9,182.0 651.2,181.3 651.6,181.7 651.9,181.9 652.3,180.7 652.6,182.4 653.0,182.6 653.3,181.1 653.7,181.2 654.1,180.9 654.4,182.7 654.8,180.9 655.1,181.4 655.5,180.3 655.8,182.8 656.2,181.6 656.5,182.0 656.9,183.1 657.3,182.4 657.6,180.9 658.0,182.2 658.3,182.4 658.7,181.1 659.0,181.0 659.4,181.0 659.8,182.4 660.1,181.8 660.5,180.9 660.8,182.3 661.2,182.4 661.5,181.1 661.9,180.5 662.2,182.7 662.6,183.9 663.0,183.0 663.3,182.6 663.7,181.9 664.0,181.3 664.4,181.9 664.7,182.4 665.1,181.7 665.5,182.6 665.8,181.8 666.2,182.3 666.5,179.6 666.9,181.1 667.2,182.5 667.6,182.6 668.0,182.1 668.3,183.1 668.7,182.4 669.0,182.4 669.4,181.1 669.7,182.1 670.1,182.4 670.4,182.9 670.8,182.7 671.2,181.8 671.5,182.0 671.9,180.9 672.2,182.3 672.6,180.9 672.9,181.6 673.3,181.8 673.6,183.4 674.0,182.8 674.4,181.2 674.7,180.6 675.1,181.6 675.4,181.2 675.8,182.1 676.1,182.1 676.5,182.3 676.9,181.0 677.2,181.5 677.6,182.0 677.9,182.0 678.3,181.3 678.6,181.5 679.0,182.5 679.4,180.4" fill="none" stroke="#c0504d" stroke-width="3.0" stroke-linejoin="round" />
<line x1="608.0" y1="103.3" x2="608.0" y2="210.3" stroke="#000" stroke-width="1" stroke-dasharray="3,2"/>
<line x1="624" y1="64.3" x2="651" y2="64.3" stroke="#4a7ebf" stroke-width="3" stroke-linecap="round"/>
<line x1="624" y1="90.2" x2="651" y2="90.2" stroke="#c0504d" stroke-width="3" stroke-linecap="round"/>
<text x="653.1" y="70.1" font-size="11.5" text-anchor="start" font-family='"Liberation Sans", sans-serif' fill="#000" textLength="25" lengthAdjust="spacingAndGlyphs">DAPI</text>
<text x="653.1" y="95.8" font-size="11.5" text-anchor="start" font-family='"Liberation Sans", sans-serif' fill="#000" textLength="22" lengthAdjust="spacingAndGlyphs">FITC</text>
</svg>
</body></html>
